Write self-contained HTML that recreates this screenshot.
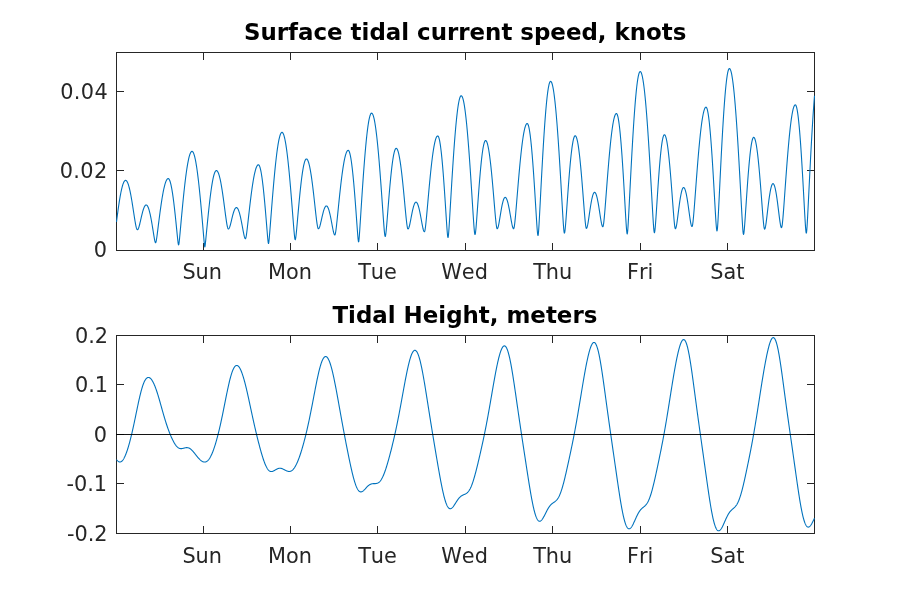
<!DOCTYPE html>
<html><head><meta charset="utf-8"><title>Tidal plots</title>
<style>
html,body{margin:0;padding:0;background:#fff;}
svg{display:block;will-change:transform;}
.tk{font-family:"DejaVu Sans","Liberation Sans",sans-serif;font-size:20.83px;fill:#262626;font-kerning:none;}
.tt{font-family:"DejaVu Sans","Liberation Sans",sans-serif;font-size:22.92px;font-weight:bold;fill:#000;}
.ax{stroke:#262626;stroke-width:1;fill:none;shape-rendering:crispEdges;}
.ln{stroke:#0072BD;stroke-width:1.1;fill:none;stroke-linejoin:round;stroke-linecap:butt;}
</style></head><body>
<svg width="900" height="600" viewBox="0 0 900 600">
<rect x="0" y="0" width="900" height="600" fill="#ffffff"/>
<g id="top">
<clipPath id="c1"><rect x="116.0" y="52.0" width="699.0" height="199.0"/></clipPath>
<path class="ax" d="M203.5,250.5v-7.5M203.5,52.5v7.5M290.5,250.5v-7.5M290.5,52.5v7.5M377.5,250.5v-7.5M377.5,52.5v7.5M465.5,250.5v-7.5M465.5,52.5v7.5M552.5,250.5v-7.5M552.5,52.5v7.5M640.5,250.5v-7.5M640.5,52.5v7.5M727.5,250.5v-7.5M727.5,52.5v7.5M116.5,250.5h7.5M814.5,250.5h-7.5M116.5,170.5h7.5M814.5,170.5h-7.5M116.5,91.5h7.5M814.5,91.5h-7.5"/>
<rect class="ax" x="116.5" y="52.5" width="698.0" height="198.0"/>
<text class="tk" x="202.20" y="279" text-anchor="middle">Sun</text>
<text class="tk" x="289.95" y="279" text-anchor="middle">Mon</text>
<text class="tk" x="377.50" y="279" text-anchor="middle">Tue</text>
<text class="tk" x="464.55" y="279" text-anchor="middle">Wed</text>
<text class="tk" x="552.70" y="279" text-anchor="middle">Thu</text>
<text class="tk" x="640.20" y="279" text-anchor="middle">Fri</text>
<text class="tk" x="727.25" y="279" text-anchor="middle">Sat</text>
<text class="tk" x="106.95" y="257" text-anchor="end">0</text>
<text class="tk" x="107.55" y="178" text-anchor="end" style="letter-spacing:0.35px">0.02</text>
<text class="tk" x="108.05" y="99" text-anchor="end" style="letter-spacing:0.35px">0.04</text>
<path class="ln" clip-path="url(#c1)" d="M116.50,221.89 L116.75,219.93 L117.00,217.98 L117.25,216.06 L117.50,214.17 L117.75,212.31 L118.00,210.49 L118.25,208.70 L118.50,206.94 L118.75,205.23 L119.00,203.57 L119.25,201.94 L119.50,200.37 L119.75,198.84 L120.00,197.37 L120.25,195.94 L120.50,194.57 L120.75,193.26 L121.00,192.00 L121.25,190.80 L121.50,189.66 L121.75,188.59 L122.00,187.57 L122.25,186.62 L122.50,185.73 L122.75,184.91 L123.00,184.15 L123.25,183.46 L123.50,182.84 L123.75,182.28 L124.00,181.80 L124.25,181.38 L124.50,181.04 L124.75,180.76 L125.00,180.55 L125.25,180.42 L125.50,180.36 L125.75,180.36 L126.00,180.44 L126.25,180.59 L126.50,180.81 L126.75,181.10 L127.00,181.46 L127.25,181.89 L127.50,182.39 L127.75,182.96 L128.00,183.59 L128.25,184.29 L128.50,185.06 L128.75,185.89 L129.00,186.78 L129.25,187.74 L129.50,188.75 L129.75,189.82 L130.00,190.95 L130.25,192.14 L130.50,193.38 L130.75,194.67 L131.00,196.00 L131.25,197.39 L131.50,198.81 L131.75,200.28 L132.00,201.78 L132.25,203.32 L132.50,204.89 L132.75,206.48 L133.00,208.09 L133.25,209.72 L133.50,211.36 L133.75,213.01 L134.00,214.65 L134.25,216.28 L134.50,217.88 L134.75,219.46 L135.00,220.99 L135.25,222.46 L135.50,223.86 L135.75,225.16 L136.00,226.34 L136.25,227.39 L136.50,228.27 L136.75,228.96 L137.00,229.45 L137.25,229.71 L137.50,229.74 L137.75,229.60 L138.00,229.30 L138.25,228.87 L138.50,228.30 L138.75,227.62 L139.00,226.83 L139.25,225.95 L139.50,225.01 L139.75,224.00 L140.00,222.96 L140.25,221.88 L140.50,220.78 L140.75,219.68 L141.00,218.57 L141.25,217.47 L141.50,216.39 L141.75,215.34 L142.00,214.31 L142.25,213.31 L142.50,212.36 L142.75,211.45 L143.00,210.59 L143.25,209.78 L143.50,209.02 L143.75,208.32 L144.00,207.68 L144.25,207.11 L144.50,206.60 L144.75,206.15 L145.00,205.78 L145.25,205.47 L145.50,205.23 L145.75,205.07 L146.00,204.97 L146.25,204.95 L146.50,205.01 L146.75,205.14 L147.00,205.35 L147.25,205.63 L147.50,205.99 L147.75,206.43 L148.00,206.95 L148.25,207.53 L148.50,208.19 L148.75,208.92 L149.00,209.72 L149.25,210.59 L149.50,211.52 L149.75,212.52 L150.00,213.59 L150.25,214.71 L150.50,215.89 L150.75,217.13 L151.00,218.41 L151.25,219.75 L151.50,221.14 L151.75,222.56 L152.00,224.03 L152.25,225.53 L152.50,227.06 L152.75,228.61 L153.00,230.18 L153.25,231.76 L153.50,233.33 L153.75,234.90 L154.00,236.42 L154.25,237.90 L154.50,239.28 L154.75,240.53 L155.00,241.57 L155.25,242.33 L155.50,242.71 L155.75,242.64 L156.00,241.99 L156.25,240.88 L156.50,239.43 L156.75,237.77 L157.00,235.98 L157.25,234.09 L157.50,232.15 L157.75,230.17 L158.00,228.18 L158.25,226.18 L158.50,224.18 L158.75,222.19 L159.00,220.21 L159.25,218.25 L159.50,216.32 L159.75,214.40 L160.00,212.52 L160.25,210.67 L160.50,208.85 L160.75,207.07 L161.00,205.33 L161.25,203.63 L161.50,201.97 L161.75,200.35 L162.00,198.78 L162.25,197.26 L162.50,195.79 L162.75,194.38 L163.00,193.01 L163.25,191.70 L163.50,190.44 L163.75,189.25 L164.00,188.11 L164.25,187.03 L164.50,186.01 L164.75,185.05 L165.00,184.15 L165.25,183.32 L165.50,182.55 L165.75,181.85 L166.00,181.22 L166.25,180.65 L166.50,180.15 L166.75,179.71 L167.00,179.35 L167.25,179.05 L167.50,178.82 L167.75,178.66 L168.00,178.57 L168.25,178.55 L168.50,178.62 L168.75,178.80 L169.00,179.07 L169.25,179.45 L169.50,179.93 L169.75,180.51 L170.00,181.19 L170.25,181.96 L170.50,182.84 L170.75,183.81 L171.00,184.88 L171.25,186.03 L171.50,187.28 L171.75,188.62 L172.00,190.05 L172.25,191.56 L172.50,193.16 L172.75,194.84 L173.00,196.59 L173.25,198.42 L173.50,200.33 L173.75,202.30 L174.00,204.34 L174.25,206.45 L174.50,208.61 L174.75,210.83 L175.00,213.11 L175.25,215.43 L175.50,217.80 L175.75,220.21 L176.00,222.65 L176.25,225.12 L176.50,227.61 L176.75,230.12 L177.00,232.62 L177.25,235.11 L177.50,237.55 L177.75,239.90 L178.00,242.06 L178.25,243.83 L178.50,244.85 L178.75,244.70 L179.00,243.33 L179.25,241.26 L179.50,238.84 L179.75,236.26 L180.00,233.58 L180.25,230.87 L180.50,228.13 L180.75,225.39 L181.00,222.65 L181.25,219.92 L181.50,217.21 L181.75,214.52 L182.00,211.85 L182.25,209.22 L182.50,206.61 L182.75,204.04 L183.00,201.51 L183.25,199.01 L183.50,196.56 L183.75,194.16 L184.00,191.80 L184.25,189.49 L184.50,187.23 L184.75,185.02 L185.00,182.87 L185.25,180.78 L185.50,178.75 L185.75,176.78 L186.00,174.87 L186.25,173.02 L186.50,171.24 L186.75,169.53 L187.00,167.89 L187.25,166.32 L187.50,164.82 L187.75,163.40 L188.00,162.05 L188.25,160.77 L188.50,159.58 L188.75,158.46 L189.00,157.42 L189.25,156.46 L189.50,155.58 L189.75,154.78 L190.00,154.06 L190.25,153.43 L190.50,152.88 L190.75,152.41 L191.00,152.03 L191.25,151.73 L191.50,151.52 L191.75,151.39 L192.00,151.35 L192.25,151.40 L192.50,151.54 L192.75,151.77 L193.00,152.10 L193.25,152.52 L193.50,153.03 L193.75,153.63 L194.00,154.33 L194.25,155.11 L194.50,155.99 L194.75,156.95 L195.00,158.01 L195.25,159.15 L195.50,160.37 L195.75,161.68 L196.00,163.08 L196.25,164.56 L196.50,166.12 L196.75,167.75 L197.00,169.47 L197.25,171.26 L197.50,173.13 L197.75,175.07 L198.00,177.08 L198.25,179.16 L198.50,181.31 L198.75,183.52 L199.00,185.79 L199.25,188.13 L199.50,190.52 L199.75,192.97 L200.00,195.48 L200.25,198.03 L200.50,200.63 L200.75,203.28 L201.00,205.98 L201.25,208.71 L201.50,211.48 L201.75,214.29 L202.00,217.13 L202.25,220.00 L202.50,222.89 L202.75,225.80 L203.00,228.72 L203.25,231.65 L203.50,234.58 L203.75,237.49 L204.00,240.35 L204.25,243.09 L204.50,245.50 L204.75,246.90 L205.00,246.39 L205.25,244.60 L205.50,242.32 L205.75,239.85 L206.00,237.30 L206.25,234.72 L206.50,232.14 L206.75,229.56 L207.00,226.99 L207.25,224.44 L207.50,221.91 L207.75,219.41 L208.00,216.95 L208.25,214.52 L208.50,212.13 L208.75,209.78 L209.00,207.48 L209.25,205.22 L209.50,203.02 L209.75,200.87 L210.00,198.78 L210.25,196.75 L210.50,194.77 L210.75,192.86 L211.00,191.02 L211.25,189.25 L211.50,187.54 L211.75,185.91 L212.00,184.35 L212.25,182.87 L212.50,181.46 L212.75,180.14 L213.00,178.89 L213.25,177.73 L213.50,176.65 L213.75,175.65 L214.00,174.74 L214.25,173.92 L214.50,173.19 L214.75,172.54 L215.00,171.99 L215.25,171.52 L215.50,171.14 L215.75,170.86 L216.00,170.67 L216.25,170.57 L216.50,170.56 L216.75,170.63 L217.00,170.78 L217.25,171.01 L217.50,171.32 L217.75,171.71 L218.00,172.17 L218.25,172.72 L218.50,173.34 L218.75,174.03 L219.00,174.80 L219.25,175.65 L219.50,176.57 L219.75,177.56 L220.00,178.61 L220.25,179.74 L220.50,180.94 L220.75,182.20 L221.00,183.52 L221.25,184.90 L221.50,186.35 L221.75,187.85 L222.00,189.40 L222.25,191.01 L222.50,192.66 L222.75,194.36 L223.00,196.11 L223.25,197.89 L223.50,199.70 L223.75,201.55 L224.00,203.42 L224.25,205.31 L224.50,207.21 L224.75,209.12 L225.00,211.03 L225.25,212.93 L225.50,214.81 L225.75,216.65 L226.00,218.45 L226.25,220.19 L226.50,221.85 L226.75,223.40 L227.00,224.81 L227.25,226.07 L227.50,227.14 L227.75,227.99 L228.00,228.58 L228.25,228.90 L228.50,228.94 L228.75,228.80 L229.00,228.51 L229.25,228.09 L229.50,227.53 L229.75,226.86 L230.00,226.09 L230.25,225.24 L230.50,224.32 L230.75,223.35 L231.00,222.34 L231.25,221.31 L231.50,220.26 L231.75,219.21 L232.00,218.17 L232.25,217.14 L232.50,216.14 L232.75,215.17 L233.00,214.24 L233.25,213.36 L233.50,212.52 L233.75,211.73 L234.00,211.01 L234.25,210.34 L234.50,209.75 L234.75,209.21 L235.00,208.75 L235.25,208.37 L235.50,208.05 L235.75,207.81 L236.00,207.65 L236.25,207.56 L236.50,207.56 L236.75,207.62 L237.00,207.77 L237.25,207.99 L237.50,208.28 L237.75,208.65 L238.00,209.09 L238.25,209.61 L238.50,210.19 L238.75,210.85 L239.00,211.57 L239.25,212.36 L239.50,213.22 L239.75,214.13 L240.00,215.10 L240.25,216.14 L240.50,217.22 L240.75,218.36 L241.00,219.54 L241.25,220.76 L241.50,222.02 L241.75,223.32 L242.00,224.64 L242.25,225.98 L242.50,227.34 L242.75,228.70 L243.00,230.06 L243.25,231.39 L243.50,232.69 L243.75,233.94 L244.00,235.12 L244.25,236.18 L244.50,237.11 L244.75,237.87 L245.00,238.41 L245.25,238.70 L245.50,238.71 L245.75,238.22 L246.00,237.27 L246.25,235.92 L246.50,234.30 L246.75,232.46 L247.00,230.49 L247.25,228.41 L247.50,226.27 L247.75,224.08 L248.00,221.86 L248.25,219.63 L248.50,217.40 L248.75,215.16 L249.00,212.94 L249.25,210.74 L249.50,208.56 L249.75,206.40 L250.00,204.27 L250.25,202.18 L250.50,200.12 L250.75,198.10 L251.00,196.12 L251.25,194.18 L251.50,192.29 L251.75,190.45 L252.00,188.66 L252.25,186.92 L252.50,185.24 L252.75,183.61 L253.00,182.04 L253.25,180.53 L253.50,179.09 L253.75,177.70 L254.00,176.38 L254.25,175.13 L254.50,173.94 L254.75,172.82 L255.00,171.77 L255.25,170.79 L255.50,169.88 L255.75,169.04 L256.00,168.27 L256.25,167.58 L256.50,166.96 L256.75,166.42 L257.00,165.95 L257.25,165.56 L257.50,165.25 L257.75,165.01 L258.00,164.85 L258.25,164.76 L258.50,164.76 L258.75,164.88 L259.00,165.12 L259.25,165.50 L259.50,166.00 L259.75,166.63 L260.00,167.38 L260.25,168.26 L260.50,169.27 L260.75,170.39 L261.00,171.64 L261.25,173.01 L261.50,174.49 L261.75,176.09 L262.00,177.79 L262.25,179.61 L262.50,181.53 L262.75,183.56 L263.00,185.68 L263.25,187.91 L263.50,190.22 L263.75,192.62 L264.00,195.11 L264.25,197.68 L264.50,200.33 L264.75,203.04 L265.00,205.83 L265.25,208.67 L265.50,211.57 L265.75,214.53 L266.00,217.52 L266.25,220.55 L266.50,223.60 L266.75,226.66 L267.00,229.72 L267.25,232.74 L267.50,235.69 L267.75,238.48 L268.00,240.97 L268.25,242.82 L268.50,243.55 L268.75,242.78 L269.00,240.82 L269.25,238.22 L269.50,235.30 L269.75,232.22 L270.00,229.05 L270.25,225.84 L270.50,222.61 L270.75,219.38 L271.00,216.15 L271.25,212.94 L271.50,209.74 L271.75,206.58 L272.00,203.44 L272.25,200.33 L272.50,197.27 L272.75,194.24 L273.00,191.26 L273.25,188.33 L273.50,185.45 L273.75,182.62 L274.00,179.84 L274.25,177.13 L274.50,174.47 L274.75,171.88 L275.00,169.36 L275.25,166.90 L275.50,164.51 L275.75,162.19 L276.00,159.95 L276.25,157.79 L276.50,155.70 L276.75,153.69 L277.00,151.76 L277.25,149.92 L277.50,148.16 L277.75,146.49 L278.00,144.90 L278.25,143.41 L278.50,142.00 L278.75,140.69 L279.00,139.47 L279.25,138.34 L279.50,137.31 L279.75,136.37 L280.00,135.53 L280.25,134.79 L280.50,134.14 L280.75,133.60 L281.00,133.15 L281.25,132.80 L281.50,132.55 L281.75,132.40 L282.00,132.35 L282.25,132.40 L282.50,132.56 L282.75,132.82 L283.00,133.18 L283.25,133.65 L283.50,134.22 L283.75,134.89 L284.00,135.66 L284.25,136.53 L284.50,137.51 L284.75,138.58 L285.00,139.75 L285.25,141.02 L285.50,142.39 L285.75,143.85 L286.00,145.40 L286.25,147.05 L286.50,148.78 L286.75,150.61 L287.00,152.52 L287.25,154.51 L287.50,156.60 L287.75,158.76 L288.00,161.00 L288.25,163.32 L288.50,165.71 L288.75,168.18 L289.00,170.72 L289.25,173.32 L289.50,175.99 L289.75,178.73 L290.00,181.52 L290.25,184.37 L290.50,187.27 L290.75,190.23 L291.00,193.23 L291.25,196.27 L291.50,199.36 L291.75,202.47 L292.00,205.62 L292.25,208.79 L292.50,211.97 L292.75,215.17 L293.00,218.36 L293.25,221.54 L293.50,224.68 L293.75,227.75 L294.00,230.72 L294.25,233.52 L294.50,236.03 L294.75,238.08 L295.00,239.40 L295.25,239.73 L295.50,239.11 L295.75,237.71 L296.00,235.77 L296.25,233.46 L296.50,230.93 L296.75,228.26 L297.00,225.50 L297.25,222.70 L297.50,219.87 L297.75,217.04 L298.00,214.22 L298.25,211.41 L298.50,208.63 L298.75,205.89 L299.00,203.19 L299.25,200.53 L299.50,197.93 L299.75,195.38 L300.00,192.90 L300.25,190.48 L300.50,188.12 L300.75,185.84 L301.00,183.64 L301.25,181.51 L301.50,179.46 L301.75,177.50 L302.00,175.63 L302.25,173.84 L302.50,172.15 L302.75,170.55 L303.00,169.04 L303.25,167.64 L303.50,166.33 L303.75,165.13 L304.00,164.03 L304.25,163.03 L304.50,162.15 L304.75,161.36 L305.00,160.69 L305.25,160.13 L305.50,159.67 L305.75,159.33 L306.00,159.09 L306.25,158.97 L306.50,158.96 L306.75,159.04 L307.00,159.22 L307.25,159.49 L307.50,159.85 L307.75,160.30 L308.00,160.84 L308.25,161.47 L308.50,162.20 L308.75,163.01 L309.00,163.91 L309.25,164.89 L309.50,165.96 L309.75,167.12 L310.00,168.35 L310.25,169.67 L310.50,171.07 L310.75,172.54 L311.00,174.09 L311.25,175.70 L311.50,177.39 L311.75,179.15 L312.00,180.97 L312.25,182.86 L312.50,184.80 L312.75,186.80 L313.00,188.85 L313.25,190.94 L313.50,193.08 L313.75,195.26 L314.00,197.48 L314.25,199.72 L314.50,201.98 L314.75,204.26 L315.00,206.54 L315.25,208.82 L315.50,211.09 L315.75,213.33 L316.00,215.52 L316.25,217.65 L316.50,219.70 L316.75,221.63 L317.00,223.42 L317.25,225.02 L317.50,226.39 L317.75,227.49 L318.00,228.26 L318.25,228.68 L318.50,228.74 L318.75,228.59 L319.00,228.28 L319.25,227.82 L319.50,227.22 L319.75,226.49 L320.00,225.67 L320.25,224.75 L320.50,223.76 L320.75,222.72 L321.00,221.64 L321.25,220.54 L321.50,219.42 L321.75,218.30 L322.00,217.19 L322.25,216.10 L322.50,215.04 L322.75,214.01 L323.00,213.03 L323.25,212.09 L323.50,211.20 L323.75,210.37 L324.00,209.60 L324.25,208.90 L324.50,208.27 L324.75,207.71 L325.00,207.22 L325.25,206.81 L325.50,206.48 L325.75,206.23 L326.00,206.05 L326.25,205.96 L326.50,205.96 L326.75,206.03 L327.00,206.20 L327.25,206.44 L327.50,206.78 L327.75,207.19 L328.00,207.69 L328.25,208.27 L328.50,208.92 L328.75,209.66 L329.00,210.46 L329.25,211.34 L329.50,212.29 L329.75,213.30 L330.00,214.37 L330.25,215.50 L330.50,216.68 L330.75,217.91 L331.00,219.18 L331.25,220.48 L331.50,221.81 L331.75,223.16 L332.00,224.51 L332.25,225.86 L332.50,227.20 L332.75,228.50 L333.00,229.75 L333.25,230.93 L333.50,232.01 L333.75,232.96 L334.00,233.76 L334.25,234.38 L334.50,234.78 L334.75,234.95 L335.00,234.78 L335.25,234.11 L335.50,232.99 L335.75,231.50 L336.00,229.72 L336.25,227.73 L336.50,225.58 L336.75,223.31 L337.00,220.96 L337.25,218.56 L337.50,216.11 L337.75,213.65 L338.00,211.17 L338.25,208.69 L338.50,206.22 L338.75,203.76 L339.00,201.32 L339.25,198.91 L339.50,196.52 L339.75,194.17 L340.00,191.85 L340.25,189.58 L340.50,187.35 L340.75,185.16 L341.00,183.02 L341.25,180.94 L341.50,178.90 L341.75,176.92 L342.00,175.01 L342.25,173.15 L342.50,171.35 L342.75,169.62 L343.00,167.95 L343.25,166.35 L343.50,164.82 L343.75,163.36 L344.00,161.97 L344.25,160.65 L344.50,159.41 L344.75,158.25 L345.00,157.16 L345.25,156.15 L345.50,155.21 L345.75,154.36 L346.00,153.59 L346.25,152.90 L346.50,152.29 L346.75,151.76 L347.00,151.32 L347.25,150.96 L347.50,150.68 L347.75,150.49 L348.00,150.38 L348.25,150.35 L348.50,150.45 L348.75,150.69 L349.00,151.08 L349.25,151.60 L349.50,152.27 L349.75,153.07 L350.00,154.01 L350.25,155.09 L350.50,156.30 L350.75,157.65 L351.00,159.13 L351.25,160.74 L351.50,162.47 L351.75,164.33 L352.00,166.32 L352.25,168.42 L352.50,170.63 L352.75,172.96 L353.00,175.39 L353.25,177.93 L353.50,180.58 L353.75,183.32 L354.00,186.15 L354.25,189.07 L354.50,192.07 L354.75,195.15 L355.00,198.30 L355.25,201.52 L355.50,204.80 L355.75,208.14 L356.00,211.52 L356.25,214.94 L356.50,218.38 L356.75,221.84 L357.00,225.29 L357.25,228.71 L357.50,232.05 L357.75,235.25 L358.00,238.15 L358.25,240.50 L358.50,241.82 L358.75,241.61 L359.00,239.75 L359.25,236.87 L359.50,233.48 L359.75,229.84 L360.00,226.06 L360.25,222.22 L360.50,218.34 L360.75,214.45 L361.00,210.56 L361.25,206.69 L361.50,202.85 L361.75,199.03 L362.00,195.26 L362.25,191.52 L362.50,187.83 L362.75,184.20 L363.00,180.62 L363.25,177.10 L363.50,173.65 L363.75,170.26 L364.00,166.95 L364.25,163.70 L364.50,160.54 L364.75,157.45 L365.00,154.45 L365.25,151.54 L365.50,148.72 L365.75,145.98 L366.00,143.34 L366.25,140.80 L366.50,138.36 L366.75,136.02 L367.00,133.78 L367.25,131.65 L367.50,129.63 L367.75,127.72 L368.00,125.92 L368.25,124.23 L368.50,122.66 L368.75,121.20 L369.00,119.86 L369.25,118.64 L369.50,117.54 L369.75,116.56 L370.00,115.70 L370.25,114.97 L370.50,114.36 L370.75,113.87 L371.00,113.51 L371.25,113.27 L371.50,113.16 L371.75,113.17 L372.00,113.30 L372.25,113.53 L372.50,113.89 L372.75,114.35 L373.00,114.93 L373.25,115.62 L373.50,116.42 L373.75,117.33 L374.00,118.35 L374.25,119.48 L374.50,120.72 L374.75,122.06 L375.00,123.51 L375.25,125.07 L375.50,126.73 L375.75,128.49 L376.00,130.35 L376.25,132.31 L376.50,134.37 L376.75,136.52 L377.00,138.76 L377.25,141.10 L377.50,143.53 L377.75,146.04 L378.00,148.63 L378.25,151.31 L378.50,154.07 L378.75,156.91 L379.00,159.82 L379.25,162.80 L379.50,165.85 L379.75,168.96 L380.00,172.14 L380.25,175.38 L380.50,178.67 L380.75,182.02 L381.00,185.41 L381.25,188.84 L381.50,192.31 L381.75,195.82 L382.00,199.35 L382.25,202.90 L382.50,206.46 L382.75,210.02 L383.00,213.57 L383.25,217.09 L383.50,220.55 L383.75,223.91 L384.00,227.13 L384.25,230.13 L384.50,232.77 L384.75,234.88 L385.00,236.20 L385.25,236.53 L385.50,235.90 L385.75,234.48 L386.00,232.46 L386.25,230.01 L386.50,227.28 L386.75,224.37 L387.00,221.35 L387.25,218.26 L387.50,215.12 L387.75,211.98 L388.00,208.83 L388.25,205.70 L388.50,202.60 L388.75,199.54 L389.00,196.52 L389.25,193.55 L389.50,190.65 L389.75,187.80 L390.00,185.03 L390.25,182.33 L390.50,179.71 L390.75,177.17 L391.00,174.72 L391.25,172.36 L391.50,170.09 L391.75,167.92 L392.00,165.86 L392.25,163.89 L392.50,162.03 L392.75,160.29 L393.00,158.65 L393.25,157.13 L393.50,155.72 L393.75,154.43 L394.00,153.27 L394.25,152.22 L394.50,151.30 L394.75,150.50 L395.00,149.82 L395.25,149.27 L395.50,148.85 L395.75,148.56 L396.00,148.39 L396.25,148.35 L396.50,148.43 L396.75,148.61 L397.00,148.90 L397.25,149.30 L397.50,149.81 L397.75,150.42 L398.00,151.14 L398.25,151.97 L398.50,152.89 L398.75,153.92 L399.00,155.06 L399.25,156.29 L399.50,157.62 L399.75,159.04 L400.00,160.56 L400.25,162.17 L400.50,163.88 L400.75,165.67 L401.00,167.54 L401.25,169.50 L401.50,171.54 L401.75,173.65 L402.00,175.84 L402.25,178.10 L402.50,180.42 L402.75,182.81 L403.00,185.25 L403.25,187.75 L403.50,190.29 L403.75,192.88 L404.00,195.50 L404.25,198.15 L404.50,200.82 L404.75,203.50 L405.00,206.18 L405.25,208.85 L405.50,211.48 L405.75,214.07 L406.00,216.59 L406.25,219.01 L406.50,221.28 L406.75,223.38 L407.00,225.23 L407.25,226.78 L407.50,227.96 L407.75,228.70 L408.00,228.95 L408.25,228.85 L408.50,228.54 L408.75,228.04 L409.00,227.36 L409.25,226.53 L409.50,225.57 L409.75,224.50 L410.00,223.34 L410.25,222.12 L410.50,220.85 L410.75,219.55 L411.00,218.24 L411.25,216.92 L411.50,215.62 L411.75,214.34 L412.00,213.09 L412.25,211.88 L412.50,210.72 L412.75,209.62 L413.00,208.57 L413.25,207.59 L413.50,206.68 L413.75,205.84 L414.00,205.08 L414.25,204.41 L414.50,203.82 L414.75,203.31 L415.00,202.90 L415.25,202.57 L415.50,202.34 L415.75,202.20 L416.00,202.15 L416.25,202.20 L416.50,202.33 L416.75,202.55 L417.00,202.87 L417.25,203.27 L417.50,203.76 L417.75,204.33 L418.00,204.98 L418.25,205.72 L418.50,206.53 L418.75,207.42 L419.00,208.38 L419.25,209.41 L419.50,210.50 L419.75,211.65 L420.00,212.86 L420.25,214.11 L420.50,215.41 L420.75,216.74 L421.00,218.10 L421.25,219.48 L421.50,220.86 L421.75,222.24 L422.00,223.60 L422.25,224.93 L422.50,226.20 L422.75,227.40 L423.00,228.51 L423.25,229.49 L423.50,230.33 L423.75,230.99 L424.00,231.46 L424.25,231.71 L424.50,231.70 L424.75,231.18 L425.00,230.13 L425.25,228.63 L425.50,226.76 L425.75,224.61 L426.00,222.25 L426.25,219.74 L426.50,217.11 L426.75,214.40 L427.00,211.64 L427.25,208.84 L427.50,206.02 L427.75,203.19 L428.00,200.36 L428.25,197.55 L428.50,194.75 L428.75,191.98 L429.00,189.24 L429.25,186.54 L429.50,183.88 L429.75,181.26 L430.00,178.69 L430.25,176.17 L430.50,173.70 L430.75,171.30 L431.00,168.95 L431.25,166.67 L431.50,164.45 L431.75,162.31 L432.00,160.23 L432.25,158.23 L432.50,156.30 L432.75,154.45 L433.00,152.68 L433.25,151.00 L433.50,149.39 L433.75,147.87 L434.00,146.43 L434.25,145.09 L434.50,143.83 L434.75,142.66 L435.00,141.58 L435.25,140.59 L435.50,139.70 L435.75,138.90 L436.00,138.19 L436.25,137.58 L436.50,137.07 L436.75,136.65 L437.00,136.33 L437.25,136.11 L437.50,135.98 L437.75,135.95 L438.00,136.07 L438.25,136.35 L438.50,136.79 L438.75,137.40 L439.00,138.17 L439.25,139.10 L439.50,140.19 L439.75,141.44 L440.00,142.85 L440.25,144.41 L440.50,146.12 L440.75,147.98 L441.00,149.99 L441.25,152.14 L441.50,154.43 L441.75,156.86 L442.00,159.42 L442.25,162.11 L442.50,164.92 L442.75,167.86 L443.00,170.90 L443.25,174.06 L443.50,177.32 L443.75,180.68 L444.00,184.13 L444.25,187.67 L444.50,191.28 L444.75,194.97 L445.00,198.71 L445.25,202.51 L445.50,206.35 L445.75,210.21 L446.00,214.09 L446.25,217.94 L446.50,221.75 L446.75,225.46 L447.00,229.00 L447.25,232.23 L447.50,234.96 L447.75,236.86 L448.00,237.55 L448.25,236.78 L448.50,234.68 L448.75,231.70 L449.00,228.19 L449.25,224.37 L449.50,220.36 L449.75,216.24 L450.00,212.07 L450.25,207.86 L450.50,203.64 L450.75,199.43 L451.00,195.23 L451.25,191.07 L451.50,186.93 L451.75,182.84 L452.00,178.80 L452.25,174.81 L452.50,170.88 L452.75,167.02 L453.00,163.22 L453.25,159.49 L453.50,155.84 L453.75,152.27 L454.00,148.78 L454.25,145.38 L454.50,142.07 L454.75,138.86 L455.00,135.74 L455.25,132.71 L455.50,129.79 L455.75,126.98 L456.00,124.27 L456.25,121.68 L456.50,119.19 L456.75,116.82 L457.00,114.57 L457.25,112.44 L457.50,110.43 L457.75,108.54 L458.00,106.78 L458.25,105.14 L458.50,103.63 L458.75,102.25 L459.00,101.00 L459.25,99.88 L459.50,98.89 L459.75,98.04 L460.00,97.32 L460.25,96.73 L460.50,96.28 L460.75,95.97 L461.00,95.79 L461.25,95.75 L461.50,95.84 L461.75,96.05 L462.00,96.39 L462.25,96.84 L462.50,97.43 L462.75,98.13 L463.00,98.96 L463.25,99.91 L463.50,100.98 L463.75,102.16 L464.00,103.47 L464.25,104.90 L464.50,106.44 L464.75,108.10 L465.00,109.87 L465.25,111.75 L465.50,113.75 L465.75,115.85 L466.00,118.06 L466.25,120.37 L466.50,122.79 L466.75,125.31 L467.00,127.93 L467.25,130.65 L467.50,133.46 L467.75,136.36 L468.00,139.35 L468.25,142.43 L468.50,145.59 L468.75,148.83 L469.00,152.15 L469.25,155.55 L469.50,159.02 L469.75,162.55 L470.00,166.15 L470.25,169.80 L470.50,173.52 L470.75,177.28 L471.00,181.09 L471.25,184.95 L471.50,188.83 L471.75,192.75 L472.00,196.69 L472.25,200.63 L472.50,204.58 L472.75,208.51 L473.00,212.41 L473.25,216.25 L473.50,219.99 L473.75,223.57 L474.00,226.92 L474.25,229.91 L474.50,232.34 L474.75,233.97 L475.00,234.55 L475.25,234.06 L475.50,232.66 L475.75,230.55 L476.00,227.93 L476.25,224.98 L476.50,221.80 L476.75,218.47 L477.00,215.06 L477.25,211.60 L477.50,208.12 L477.75,204.64 L478.00,201.18 L478.25,197.76 L478.50,194.37 L478.75,191.04 L479.00,187.77 L479.25,184.56 L479.50,181.44 L479.75,178.39 L480.00,175.43 L480.25,172.57 L480.50,169.80 L480.75,167.14 L481.00,164.59 L481.25,162.14 L481.50,159.81 L481.75,157.60 L482.00,155.52 L482.25,153.55 L482.50,151.72 L482.75,150.02 L483.00,148.45 L483.25,147.02 L483.50,145.73 L483.75,144.58 L484.00,143.57 L484.25,142.70 L484.50,141.98 L484.75,141.40 L485.00,140.98 L485.25,140.70 L485.50,140.56 L485.75,140.57 L486.00,140.71 L486.25,140.96 L486.50,141.34 L486.75,141.83 L487.00,142.45 L487.25,143.18 L487.50,144.03 L487.75,145.00 L488.00,146.09 L488.25,147.28 L488.50,148.60 L488.75,150.02 L489.00,151.55 L489.25,153.19 L489.50,154.93 L489.75,156.77 L490.00,158.72 L490.25,160.76 L490.50,162.89 L490.75,165.12 L491.00,167.43 L491.25,169.83 L491.50,172.31 L491.75,174.86 L492.00,177.48 L492.25,180.17 L492.50,182.93 L492.75,185.74 L493.00,188.60 L493.25,191.50 L493.50,194.44 L493.75,197.40 L494.00,200.38 L494.25,203.36 L494.50,206.34 L494.75,209.29 L495.00,212.19 L495.25,215.02 L495.50,217.74 L495.75,220.31 L496.00,222.67 L496.25,224.76 L496.50,226.50 L496.75,227.79 L497.00,228.56 L497.25,228.74 L497.50,228.56 L497.75,228.13 L498.00,227.47 L498.25,226.60 L498.50,225.56 L498.75,224.36 L499.00,223.05 L499.25,221.65 L499.50,220.18 L499.75,218.67 L500.00,217.14 L500.25,215.60 L500.50,214.06 L500.75,212.55 L501.00,211.07 L501.25,209.64 L501.50,208.25 L501.75,206.92 L502.00,205.66 L502.25,204.47 L502.50,203.36 L502.75,202.33 L503.00,201.39 L503.25,200.54 L503.50,199.79 L503.75,199.13 L504.00,198.57 L504.25,198.12 L504.50,197.77 L504.75,197.52 L505.00,197.38 L505.25,197.35 L505.50,197.42 L505.75,197.58 L506.00,197.85 L506.25,198.20 L506.50,198.65 L506.75,199.19 L507.00,199.83 L507.25,200.55 L507.50,201.36 L507.75,202.25 L508.00,203.22 L508.25,204.26 L508.50,205.38 L508.75,206.57 L509.00,207.81 L509.25,209.11 L509.50,210.46 L509.75,211.86 L510.00,213.28 L510.25,214.73 L510.50,216.20 L510.75,217.67 L511.00,219.12 L511.25,220.55 L511.50,221.94 L511.75,223.26 L512.00,224.49 L512.25,225.62 L512.50,226.61 L512.75,227.44 L513.00,228.09 L513.25,228.52 L513.50,228.73 L513.75,228.64 L514.00,228.00 L514.25,226.83 L514.50,225.21 L514.75,223.21 L515.00,220.92 L515.25,218.41 L515.50,215.73 L515.75,212.93 L516.00,210.04 L516.25,207.08 L516.50,204.09 L516.75,201.06 L517.00,198.03 L517.25,194.99 L517.50,191.96 L517.75,188.95 L518.00,185.97 L518.25,183.01 L518.50,180.09 L518.75,177.20 L519.00,174.37 L519.25,171.58 L519.50,168.84 L519.75,166.17 L520.00,163.55 L520.25,160.99 L520.50,158.50 L520.75,156.08 L521.00,153.73 L521.25,151.45 L521.50,149.25 L521.75,147.13 L522.00,145.09 L522.25,143.13 L522.50,141.25 L522.75,139.47 L523.00,137.77 L523.25,136.16 L523.50,134.64 L523.75,133.21 L524.00,131.88 L524.25,130.64 L524.50,129.50 L524.75,128.46 L525.00,127.51 L525.25,126.67 L525.50,125.92 L525.75,125.28 L526.00,124.73 L526.25,124.29 L526.50,123.95 L526.75,123.72 L527.00,123.58 L527.25,123.55 L527.50,123.67 L527.75,123.95 L528.00,124.40 L528.25,125.01 L528.50,125.79 L528.75,126.72 L529.00,127.82 L529.25,129.08 L529.50,130.50 L529.75,132.08 L530.00,133.80 L530.25,135.68 L530.50,137.71 L530.75,139.89 L531.00,142.21 L531.25,144.66 L531.50,147.26 L531.75,149.98 L532.00,152.84 L532.25,155.82 L532.50,158.92 L532.75,162.13 L533.00,165.45 L533.25,168.88 L533.50,172.41 L533.75,176.03 L534.00,179.74 L534.25,183.53 L534.50,187.39 L534.75,191.31 L535.00,195.29 L535.25,199.32 L535.50,203.37 L535.75,207.44 L536.00,211.51 L536.25,215.54 L536.50,219.51 L536.75,223.35 L537.00,226.98 L537.25,230.27 L537.50,233.01 L537.75,234.88 L538.00,235.55 L538.25,234.67 L538.50,232.28 L538.75,228.88 L539.00,224.88 L539.25,220.51 L539.50,215.94 L539.75,211.24 L540.00,206.47 L540.25,201.68 L540.50,196.87 L540.75,192.08 L541.00,187.31 L541.25,182.57 L541.50,177.89 L541.75,173.25 L542.00,168.68 L542.25,164.18 L542.50,159.74 L542.75,155.39 L543.00,151.13 L543.25,146.95 L543.50,142.87 L543.75,138.89 L544.00,135.02 L544.25,131.25 L544.50,127.59 L544.75,124.05 L545.00,120.63 L545.25,117.34 L545.50,114.17 L545.75,111.13 L546.00,108.22 L546.25,105.45 L546.50,102.82 L546.75,100.34 L547.00,97.99 L547.25,95.79 L547.50,93.75 L547.75,91.85 L548.00,90.10 L548.25,88.51 L548.50,87.08 L548.75,85.80 L549.00,84.68 L549.25,83.73 L549.50,82.93 L549.75,82.29 L550.00,81.82 L550.25,81.51 L550.50,81.36 L550.75,81.37 L551.00,81.52 L551.25,81.81 L551.50,82.23 L551.75,82.78 L552.00,83.47 L552.25,84.30 L552.50,85.25 L552.75,86.34 L553.00,87.57 L553.25,88.92 L553.50,90.40 L553.75,92.01 L554.00,93.74 L554.25,95.61 L554.50,97.59 L554.75,99.70 L555.00,101.92 L555.25,104.27 L555.50,106.73 L555.75,109.31 L556.00,112.00 L556.25,114.80 L556.50,117.70 L556.75,120.71 L557.00,123.82 L557.25,127.04 L557.50,130.34 L557.75,133.75 L558.00,137.24 L558.25,140.82 L558.50,144.48 L558.75,148.22 L559.00,152.04 L559.25,155.93 L559.50,159.89 L559.75,163.91 L560.00,168.00 L560.25,172.13 L560.50,176.32 L560.75,180.55 L561.00,184.81 L561.25,189.10 L561.50,193.41 L561.75,197.73 L562.00,202.05 L562.25,206.34 L562.50,210.58 L562.75,214.74 L563.00,218.77 L563.25,222.61 L563.50,226.14 L563.75,229.20 L564.00,231.56 L564.25,232.92 L564.50,233.07 L564.75,232.23 L565.00,230.56 L565.25,228.27 L565.50,225.52 L565.75,222.47 L566.00,219.21 L566.25,215.82 L566.50,212.34 L566.75,208.82 L567.00,205.28 L567.25,201.74 L567.50,198.23 L567.75,194.74 L568.00,191.29 L568.25,187.90 L568.50,184.57 L568.75,181.31 L569.00,178.12 L569.25,175.02 L569.50,172.00 L569.75,169.08 L570.00,166.25 L570.25,163.53 L570.50,160.91 L570.75,158.41 L571.00,156.02 L571.25,153.75 L571.50,151.60 L571.75,149.58 L572.00,147.69 L572.25,145.92 L572.50,144.30 L572.75,142.80 L573.00,141.45 L573.25,140.24 L573.50,139.17 L573.75,138.24 L574.00,137.46 L574.25,136.82 L574.50,136.33 L574.75,135.99 L575.00,135.80 L575.25,135.75 L575.50,135.85 L575.75,136.08 L576.00,136.45 L576.25,136.95 L576.50,137.58 L576.75,138.35 L577.00,139.26 L577.25,140.29 L577.50,141.45 L577.75,142.75 L578.00,144.16 L578.25,145.71 L578.50,147.37 L578.75,149.15 L579.00,151.06 L579.25,153.07 L579.50,155.20 L579.75,157.43 L580.00,159.77 L580.25,162.22 L580.50,164.75 L580.75,167.38 L581.00,170.10 L581.25,172.91 L581.50,175.79 L581.75,178.74 L582.00,181.76 L582.25,184.84 L582.50,187.98 L582.75,191.15 L583.00,194.37 L583.25,197.60 L583.50,200.85 L583.75,204.09 L584.00,207.30 L584.25,210.48 L584.50,213.57 L584.75,216.55 L585.00,219.37 L585.25,221.96 L585.50,224.24 L585.75,226.11 L586.00,227.48 L586.25,228.23 L586.50,228.33 L586.75,228.06 L587.00,227.51 L587.25,226.71 L587.50,225.67 L587.75,224.45 L588.00,223.07 L588.25,221.57 L588.50,219.98 L588.75,218.32 L589.00,216.62 L589.25,214.90 L589.50,213.18 L589.75,211.47 L590.00,209.78 L590.25,208.13 L590.50,206.53 L590.75,204.98 L591.00,203.50 L591.25,202.09 L591.50,200.76 L591.75,199.51 L592.00,198.35 L592.25,197.28 L592.50,196.30 L592.75,195.43 L593.00,194.66 L593.25,194.00 L593.50,193.45 L593.75,193.01 L594.00,192.68 L594.25,192.46 L594.50,192.36 L594.75,192.37 L595.00,192.49 L595.25,192.73 L595.50,193.07 L595.75,193.52 L596.00,194.08 L596.25,194.75 L596.50,195.51 L596.75,196.38 L597.00,197.34 L597.25,198.40 L597.50,199.55 L597.75,200.78 L598.00,202.09 L598.25,203.47 L598.50,204.91 L598.75,206.42 L599.00,207.97 L599.25,209.57 L599.50,211.19 L599.75,212.83 L600.00,214.48 L600.25,216.11 L600.50,217.72 L600.75,219.28 L601.00,220.76 L601.25,222.14 L601.50,223.40 L601.75,224.50 L602.00,225.41 L602.25,226.11 L602.50,226.56 L602.75,226.74 L603.00,226.55 L603.25,225.75 L603.50,224.39 L603.75,222.57 L604.00,220.36 L604.25,217.86 L604.50,215.13 L604.75,212.22 L605.00,209.19 L605.25,206.07 L605.50,202.88 L605.75,199.65 L606.00,196.40 L606.25,193.13 L606.50,189.86 L606.75,186.61 L607.00,183.37 L607.25,180.16 L607.50,176.98 L607.75,173.84 L608.00,170.75 L608.25,167.70 L608.50,164.71 L608.75,161.78 L609.00,158.90 L609.25,156.10 L609.50,153.36 L609.75,150.69 L610.00,148.09 L610.25,145.58 L610.50,143.14 L610.75,140.78 L611.00,138.52 L611.25,136.33 L611.50,134.24 L611.75,132.24 L612.00,130.33 L612.25,128.52 L612.50,126.80 L612.75,125.18 L613.00,123.67 L613.25,122.25 L613.50,120.94 L613.75,119.73 L614.00,118.63 L614.25,117.63 L614.50,116.74 L614.75,115.96 L615.00,115.29 L615.25,114.72 L615.50,114.27 L615.75,113.92 L616.00,113.69 L616.25,113.57 L616.50,113.56 L616.75,113.73 L617.00,114.06 L617.25,114.58 L617.50,115.28 L617.75,116.15 L618.00,117.19 L618.25,118.41 L618.50,119.81 L618.75,121.37 L619.00,123.10 L619.25,124.99 L619.50,127.05 L619.75,129.27 L620.00,131.64 L620.25,134.17 L620.50,136.85 L620.75,139.68 L621.00,142.64 L621.25,145.74 L621.50,148.98 L621.75,152.34 L622.00,155.83 L622.25,159.43 L622.50,163.15 L622.75,166.97 L623.00,170.89 L623.25,174.90 L623.50,179.00 L623.75,183.17 L624.00,187.41 L624.25,191.70 L624.50,196.04 L624.75,200.40 L625.00,204.78 L625.25,209.14 L625.50,213.46 L625.75,217.70 L626.00,221.77 L626.25,225.60 L626.50,229.00 L626.75,231.74 L627.00,233.49 L627.25,233.92 L627.50,232.75 L627.75,230.21 L628.00,226.72 L628.25,222.64 L628.50,218.21 L628.75,213.56 L629.00,208.79 L629.25,203.94 L629.50,199.04 L629.75,194.14 L630.00,189.24 L630.25,184.36 L630.50,179.51 L630.75,174.71 L631.00,169.95 L631.25,165.26 L631.50,160.63 L631.75,156.06 L632.00,151.58 L632.25,147.18 L632.50,142.86 L632.75,138.64 L633.00,134.51 L633.25,130.48 L633.50,126.56 L633.75,122.75 L634.00,119.05 L634.25,115.47 L634.50,112.01 L634.75,108.67 L635.00,105.45 L635.25,102.37 L635.50,99.42 L635.75,96.61 L636.00,93.93 L636.25,91.40 L636.50,89.01 L636.75,86.76 L637.00,84.66 L637.25,82.72 L637.50,80.92 L637.75,79.28 L638.00,77.79 L638.25,76.46 L638.50,75.29 L638.75,74.27 L639.00,73.41 L639.25,72.72 L639.50,72.19 L639.75,71.81 L640.00,71.60 L640.25,71.55 L640.50,71.65 L640.75,71.88 L641.00,72.24 L641.25,72.75 L641.50,73.38 L641.75,74.15 L642.00,75.06 L642.25,76.09 L642.50,77.26 L642.75,78.56 L643.00,79.99 L643.25,81.55 L643.50,83.24 L643.75,85.05 L644.00,86.99 L644.25,89.05 L644.50,91.24 L644.75,93.54 L645.00,95.97 L645.25,98.50 L645.50,101.16 L645.75,103.92 L646.00,106.80 L646.25,109.78 L646.50,112.87 L646.75,116.06 L647.00,119.35 L647.25,122.73 L647.50,126.21 L647.75,129.79 L648.00,133.45 L648.25,137.19 L648.50,141.02 L648.75,144.92 L649.00,148.90 L649.25,152.95 L649.50,157.06 L649.75,161.24 L650.00,165.47 L650.25,169.76 L650.50,174.09 L650.75,178.47 L651.00,182.88 L651.25,187.31 L651.50,191.76 L651.75,196.22 L652.00,200.67 L652.25,205.09 L652.50,209.47 L652.75,213.76 L653.00,217.91 L653.25,221.87 L653.50,225.51 L653.75,228.67 L654.00,231.10 L654.25,232.51 L654.50,232.66 L654.75,231.68 L655.00,229.78 L655.25,227.17 L655.50,224.08 L655.75,220.68 L656.00,217.07 L656.25,213.34 L656.50,209.53 L656.75,205.69 L657.00,201.84 L657.25,198.01 L657.50,194.22 L657.75,190.47 L658.00,186.79 L658.25,183.18 L658.50,179.65 L658.75,176.22 L659.00,172.88 L659.25,169.65 L659.50,166.53 L659.75,163.53 L660.00,160.65 L660.25,157.91 L660.50,155.29 L660.75,152.82 L661.00,150.49 L661.25,148.31 L661.50,146.29 L661.75,144.41 L662.00,142.70 L662.25,141.14 L662.50,139.75 L662.75,138.53 L663.00,137.48 L663.25,136.59 L663.50,135.88 L663.75,135.34 L664.00,134.97 L664.25,134.78 L664.50,134.76 L664.75,134.89 L665.00,135.16 L665.25,135.57 L665.50,136.13 L665.75,136.82 L666.00,137.66 L666.25,138.63 L666.50,139.74 L666.75,140.98 L667.00,142.36 L667.25,143.87 L667.50,145.51 L667.75,147.28 L668.00,149.17 L668.25,151.19 L668.50,153.32 L668.75,155.57 L669.00,157.92 L669.25,160.39 L669.50,162.96 L669.75,165.63 L670.00,168.40 L670.25,171.25 L670.50,174.19 L670.75,177.21 L671.00,180.30 L671.25,183.46 L671.50,186.68 L671.75,189.95 L672.00,193.25 L672.25,196.59 L672.50,199.94 L672.75,203.29 L673.00,206.63 L673.25,209.92 L673.50,213.15 L673.75,216.26 L674.00,219.22 L674.25,221.94 L674.50,224.36 L674.75,226.35 L675.00,227.81 L675.25,228.62 L675.50,228.72 L675.75,228.40 L676.00,227.73 L676.25,226.75 L676.50,225.51 L676.75,224.04 L677.00,222.41 L677.25,220.65 L677.50,218.79 L677.75,216.87 L678.00,214.91 L678.25,212.94 L678.50,210.97 L678.75,209.03 L679.00,207.12 L679.25,205.25 L679.50,203.44 L679.75,201.70 L680.00,200.03 L680.25,198.45 L680.50,196.95 L680.75,195.55 L681.00,194.25 L681.25,193.05 L681.50,191.96 L681.75,190.99 L682.00,190.13 L682.25,189.39 L682.50,188.78 L682.75,188.28 L683.00,187.92 L683.25,187.67 L683.50,187.56 L683.75,187.57 L684.00,187.70 L684.25,187.95 L684.50,188.31 L684.75,188.79 L685.00,189.38 L685.25,190.09 L685.50,190.90 L685.75,191.83 L686.00,192.85 L686.25,193.98 L686.50,195.20 L686.75,196.51 L687.00,197.91 L687.25,199.40 L687.50,200.95 L687.75,202.57 L688.00,204.26 L688.25,205.99 L688.50,207.76 L688.75,209.56 L689.00,211.38 L689.25,213.21 L689.50,215.01 L689.75,216.78 L690.00,218.50 L690.25,220.13 L690.50,221.66 L690.75,223.03 L691.00,224.23 L691.25,225.21 L691.50,225.94 L691.75,226.40 L692.00,226.55 L692.25,226.23 L692.50,225.29 L692.75,223.79 L693.00,221.83 L693.25,219.51 L693.50,216.89 L693.75,214.05 L694.00,211.05 L694.25,207.93 L694.50,204.72 L694.75,201.45 L695.00,198.14 L695.25,194.80 L695.50,191.45 L695.75,188.11 L696.00,184.77 L696.25,181.45 L696.50,178.16 L696.75,174.90 L697.00,171.68 L697.25,168.50 L697.50,165.37 L697.75,162.29 L698.00,159.26 L698.25,156.30 L698.50,153.40 L698.75,150.56 L699.00,147.80 L699.25,145.10 L699.50,142.48 L699.75,139.94 L700.00,137.48 L700.25,135.11 L700.50,132.81 L700.75,130.61 L701.00,128.49 L701.25,126.47 L701.50,124.53 L701.75,122.69 L702.00,120.95 L702.25,119.31 L702.50,117.76 L702.75,116.32 L703.00,114.98 L703.25,113.74 L703.50,112.60 L703.75,111.57 L704.00,110.65 L704.25,109.83 L704.50,109.12 L704.75,108.52 L705.00,108.03 L705.25,107.64 L705.50,107.37 L705.75,107.20 L706.00,107.15 L706.25,107.24 L706.50,107.51 L706.75,107.96 L707.00,108.58 L707.25,109.39 L707.50,110.37 L707.75,111.53 L708.00,112.86 L708.25,114.36 L708.50,116.03 L708.75,117.87 L709.00,119.87 L709.25,122.04 L709.50,124.37 L709.75,126.85 L710.00,129.48 L710.25,132.27 L710.50,135.20 L710.75,138.26 L711.00,141.47 L711.25,144.81 L711.50,148.27 L711.75,151.85 L712.00,155.55 L712.25,159.36 L712.50,163.27 L712.75,167.28 L713.00,171.38 L713.25,175.55 L713.50,179.80 L713.75,184.11 L714.00,188.47 L714.25,192.87 L714.50,197.28 L714.75,201.70 L715.00,206.09 L715.25,210.42 L715.50,214.64 L715.75,218.69 L716.00,222.46 L716.25,225.80 L716.50,228.51 L716.75,230.31 L717.00,230.95 L717.25,230.14 L717.50,227.88 L717.75,224.55 L718.00,220.52 L718.25,216.03 L718.50,211.26 L718.75,206.31 L719.00,201.26 L719.25,196.15 L719.50,191.01 L719.75,185.87 L720.00,180.75 L720.25,175.65 L720.50,170.61 L720.75,165.61 L721.00,160.68 L721.25,155.83 L721.50,151.05 L721.75,146.36 L722.00,141.77 L722.25,137.27 L722.50,132.88 L722.75,128.59 L723.00,124.43 L723.25,120.38 L723.50,116.46 L723.75,112.66 L724.00,109.01 L724.25,105.48 L724.50,102.11 L724.75,98.87 L725.00,95.78 L725.25,92.85 L725.50,90.07 L725.75,87.45 L726.00,84.99 L726.25,82.69 L726.50,80.56 L726.75,78.60 L727.00,76.81 L727.25,75.19 L727.50,73.74 L727.75,72.47 L728.00,71.38 L728.25,70.46 L728.50,69.72 L728.75,69.16 L729.00,68.78 L729.25,68.58 L729.50,68.56 L729.75,68.69 L730.00,68.95 L730.25,69.36 L730.50,69.91 L730.75,70.59 L731.00,71.41 L731.25,72.38 L731.50,73.48 L731.75,74.71 L732.00,76.08 L732.25,77.59 L732.50,79.22 L732.75,80.99 L733.00,82.89 L733.25,84.92 L733.50,87.08 L733.75,89.36 L734.00,91.76 L734.25,94.29 L734.50,96.94 L734.75,99.70 L735.00,102.58 L735.25,105.57 L735.50,108.67 L735.75,111.88 L736.00,115.20 L736.25,118.62 L736.50,122.14 L736.75,125.75 L737.00,129.46 L737.25,133.25 L737.50,137.14 L737.75,141.11 L738.00,145.15 L738.25,149.28 L738.50,153.48 L738.75,157.74 L739.00,162.07 L739.25,166.45 L739.50,170.89 L739.75,175.38 L740.00,179.92 L740.25,184.48 L740.50,189.08 L740.75,193.69 L741.00,198.31 L741.25,202.92 L741.50,207.51 L741.75,212.04 L742.00,216.49 L742.25,220.78 L742.50,224.84 L742.75,228.52 L743.00,231.59 L743.25,233.69 L743.50,234.45 L743.75,233.89 L744.00,232.31 L744.25,229.96 L744.50,227.06 L744.75,223.82 L745.00,220.35 L745.25,216.75 L745.50,213.06 L745.75,209.33 L746.00,205.60 L746.25,201.87 L746.50,198.17 L746.75,194.52 L747.00,190.92 L747.25,187.38 L747.50,183.92 L747.75,180.54 L748.00,177.25 L748.25,174.06 L748.50,170.97 L748.75,167.98 L749.00,165.11 L749.25,162.36 L749.50,159.74 L749.75,157.24 L750.00,154.87 L750.25,152.64 L750.50,150.55 L750.75,148.61 L751.00,146.81 L751.25,145.16 L751.50,143.66 L751.75,142.32 L752.00,141.14 L752.25,140.11 L752.50,139.24 L752.75,138.54 L753.00,138.00 L753.25,137.62 L753.50,137.40 L753.75,137.35 L754.00,137.45 L754.25,137.69 L754.50,138.08 L754.75,138.60 L755.00,139.26 L755.25,140.07 L755.50,141.01 L755.75,142.08 L756.00,143.30 L756.25,144.64 L756.50,146.12 L756.75,147.72 L757.00,149.46 L757.25,151.31 L757.50,153.29 L757.75,155.39 L758.00,157.60 L758.25,159.92 L758.50,162.35 L758.75,164.88 L759.00,167.51 L759.25,170.24 L759.50,173.06 L759.75,175.96 L760.00,178.94 L760.25,181.99 L760.50,185.10 L760.75,188.28 L761.00,191.50 L761.25,194.76 L761.50,198.05 L761.75,201.36 L762.00,204.66 L762.25,207.95 L762.50,211.19 L762.75,214.35 L763.00,217.40 L763.25,220.28 L763.50,222.92 L763.75,225.23 L764.00,227.11 L764.25,228.43 L764.50,229.09 L764.75,229.08 L765.00,228.64 L765.25,227.82 L765.50,226.68 L765.75,225.26 L766.00,223.61 L766.25,221.80 L766.50,219.86 L766.75,217.83 L767.00,215.74 L767.25,213.63 L767.50,211.50 L767.75,209.38 L768.00,207.29 L768.25,205.24 L768.50,203.24 L768.75,201.30 L769.00,199.43 L769.25,197.63 L769.50,195.92 L769.75,194.31 L770.00,192.79 L770.25,191.38 L770.50,190.07 L770.75,188.87 L771.00,187.79 L771.25,186.84 L771.50,186.00 L771.75,185.28 L772.00,184.70 L772.25,184.24 L772.50,183.91 L772.75,183.72 L773.00,183.65 L773.25,183.71 L773.50,183.90 L773.75,184.22 L774.00,184.66 L774.25,185.22 L774.50,185.90 L774.75,186.71 L775.00,187.63 L775.25,188.67 L775.50,189.81 L775.75,191.07 L776.00,192.42 L776.25,193.88 L776.50,195.43 L776.75,197.07 L777.00,198.79 L777.25,200.58 L777.50,202.44 L777.75,204.36 L778.00,206.32 L778.25,208.32 L778.50,210.35 L778.75,212.38 L779.00,214.40 L779.25,216.39 L779.50,218.33 L779.75,220.19 L780.00,221.93 L780.25,223.52 L780.50,224.92 L780.75,226.07 L781.00,226.93 L781.25,227.47 L781.50,227.65 L781.75,227.29 L782.00,226.24 L782.25,224.60 L782.50,222.45 L782.75,219.93 L783.00,217.11 L783.25,214.08 L783.50,210.89 L783.75,207.59 L784.00,204.20 L784.25,200.77 L784.50,197.29 L784.75,193.80 L785.00,190.31 L785.25,186.82 L785.50,183.35 L785.75,179.91 L786.00,176.49 L786.25,173.11 L786.50,169.78 L786.75,166.49 L787.00,163.26 L787.25,160.09 L787.50,156.97 L787.75,153.92 L788.00,150.94 L788.25,148.03 L788.50,145.19 L788.75,142.43 L789.00,139.76 L789.25,137.16 L789.50,134.65 L789.75,132.23 L790.00,129.90 L790.25,127.67 L790.50,125.52 L790.75,123.48 L791.00,121.53 L791.25,119.68 L791.50,117.94 L791.75,116.30 L792.00,114.76 L792.25,113.33 L792.50,112.01 L792.75,110.80 L793.00,109.70 L793.25,108.71 L793.50,107.83 L793.75,107.06 L794.00,106.41 L794.25,105.87 L794.50,105.44 L794.75,105.13 L795.00,104.93 L795.25,104.85 L795.50,104.91 L795.75,105.15 L796.00,105.57 L796.25,106.17 L796.50,106.96 L796.75,107.92 L797.00,109.07 L797.25,110.39 L797.50,111.89 L797.75,113.56 L798.00,115.40 L798.25,117.42 L798.50,119.60 L798.75,121.94 L799.00,124.44 L799.25,127.10 L799.50,129.92 L799.75,132.88 L800.00,135.99 L800.25,139.24 L800.50,142.62 L800.75,146.14 L801.00,149.78 L801.25,153.54 L801.50,157.42 L801.75,161.41 L802.00,165.49 L802.25,169.68 L802.50,173.95 L802.75,178.30 L803.00,182.72 L803.25,187.20 L803.50,191.72 L803.75,196.29 L804.00,200.86 L804.25,205.44 L804.50,209.98 L804.75,214.44 L805.00,218.77 L805.25,222.89 L805.50,226.64 L805.75,229.81 L806.00,232.09 L806.25,233.12 L806.50,232.60 L806.75,230.52 L807.00,227.28 L807.25,223.32 L807.50,218.89 L807.75,214.19 L808.00,209.33 L808.25,204.36 L808.50,199.34 L808.75,194.29 L809.00,189.24 L809.25,184.20 L809.50,179.19 L809.75,174.22 L810.00,169.29 L810.25,164.43 L810.50,159.62 L810.75,154.89 L811.00,150.23 L811.25,145.66 L811.50,141.17 L811.75,136.78 L812.00,132.48 L812.25,128.29 L812.50,124.20 L812.75,120.22 L813.00,116.36 L813.25,112.61 L813.50,108.99 L813.75,105.50 L814.00,102.13 L814.25,98.90 L814.50,95.80"/>
<text class="tt" x="465.2" y="40" text-anchor="middle">Surface tidal current speed, knots</text>
</g>
<g id="bottom">
<clipPath id="c2"><rect x="116.0" y="335.0" width="699.0" height="199.0"/></clipPath>
<path class="ax" d="M203.5,533.5v-7.5M203.5,335.5v7.5M290.5,533.5v-7.5M290.5,335.5v7.5M377.5,533.5v-7.5M377.5,335.5v7.5M465.5,533.5v-7.5M465.5,335.5v7.5M552.5,533.5v-7.5M552.5,335.5v7.5M640.5,533.5v-7.5M640.5,335.5v7.5M727.5,533.5v-7.5M727.5,335.5v7.5M116.5,533.5h7.5M814.5,533.5h-7.5M116.5,483.5h7.5M814.5,483.5h-7.5M116.5,434.5h7.5M814.5,434.5h-7.5M116.5,384.5h7.5M814.5,384.5h-7.5M116.5,335.5h7.5M814.5,335.5h-7.5"/>
<rect class="ax" x="116.5" y="335.5" width="698.0" height="198.0"/>
<text class="tk" x="202.20" y="563" text-anchor="middle">Sun</text>
<text class="tk" x="289.95" y="563" text-anchor="middle">Mon</text>
<text class="tk" x="377.50" y="563" text-anchor="middle">Tue</text>
<text class="tk" x="464.55" y="563" text-anchor="middle">Wed</text>
<text class="tk" x="552.70" y="563" text-anchor="middle">Thu</text>
<text class="tk" x="640.20" y="563" text-anchor="middle">Fri</text>
<text class="tk" x="727.25" y="563" text-anchor="middle">Sat</text>
<text class="tk" x="107.60" y="541" text-anchor="end">-0.2</text>
<text class="tk" x="107.05" y="491" text-anchor="end">-0.1</text>
<text class="tk" x="107.05" y="442" text-anchor="end">0</text>
<text class="tk" x="108.10" y="392" text-anchor="end">0.1</text>
<text class="tk" x="108.10" y="343" text-anchor="end">0.2</text>
<path class="ln" clip-path="url(#c2)" d="M116.50,459.56 L116.75,459.88 L117.00,460.18 L117.25,460.46 L117.50,460.72 L117.75,460.96 L118.00,461.18 L118.25,461.37 L118.50,461.53 L118.75,461.67 L119.00,461.79 L119.25,461.87 L119.50,461.94 L119.75,461.97 L120.00,461.97 L120.25,461.95 L120.50,461.90 L120.75,461.82 L121.00,461.72 L121.25,461.58 L121.50,461.42 L121.75,461.22 L122.00,461.00 L122.25,460.75 L122.50,460.47 L122.75,460.17 L123.00,459.83 L123.25,459.47 L123.50,459.08 L123.75,458.67 L124.00,458.23 L124.25,457.76 L124.50,457.27 L124.75,456.75 L125.00,456.21 L125.25,455.65 L125.50,455.06 L125.75,454.44 L126.00,453.81 L126.25,453.15 L126.50,452.47 L126.75,451.78 L127.00,451.05 L127.25,450.31 L127.50,449.55 L127.75,448.77 L128.00,447.97 L128.25,447.15 L128.50,446.31 L128.75,445.46 L129.00,444.58 L129.25,443.69 L129.50,442.78 L129.75,441.85 L130.00,440.91 L130.25,439.94 L130.50,438.97 L130.75,437.97 L131.00,436.96 L131.25,435.94 L131.50,434.89 L131.75,433.84 L132.00,432.77 L132.25,431.68 L132.50,430.58 L132.75,429.47 L133.00,428.35 L133.25,427.21 L133.50,426.07 L133.75,424.91 L134.00,423.74 L134.25,422.57 L134.50,421.38 L134.75,420.19 L135.00,418.99 L135.25,417.79 L135.50,416.58 L135.75,415.37 L136.00,414.16 L136.25,412.95 L136.50,411.74 L136.75,410.53 L137.00,409.32 L137.25,408.12 L137.50,406.93 L137.75,405.74 L138.00,404.56 L138.25,403.39 L138.50,402.23 L138.75,401.09 L139.00,399.96 L139.25,398.85 L139.50,397.76 L139.75,396.68 L140.00,395.62 L140.25,394.59 L140.50,393.58 L140.75,392.59 L141.00,391.63 L141.25,390.69 L141.50,389.79 L141.75,388.91 L142.00,388.06 L142.25,387.24 L142.50,386.45 L142.75,385.69 L143.00,384.96 L143.25,384.27 L143.50,383.61 L143.75,382.98 L144.00,382.39 L144.25,381.83 L144.50,381.30 L144.75,380.81 L145.00,380.35 L145.25,379.93 L145.50,379.54 L145.75,379.19 L146.00,378.87 L146.25,378.58 L146.50,378.33 L146.75,378.11 L147.00,377.92 L147.25,377.76 L147.50,377.64 L147.75,377.55 L148.00,377.48 L148.25,377.45 L148.50,377.45 L148.75,377.48 L149.00,377.53 L149.25,377.62 L149.50,377.73 L149.75,377.87 L150.00,378.04 L150.25,378.23 L150.50,378.45 L150.75,378.70 L151.00,378.97 L151.25,379.26 L151.50,379.58 L151.75,379.93 L152.00,380.29 L152.25,380.68 L152.50,381.10 L152.75,381.53 L153.00,381.99 L153.25,382.47 L153.50,382.97 L153.75,383.49 L154.00,384.04 L154.25,384.60 L154.50,385.18 L154.75,385.79 L155.00,386.41 L155.25,387.05 L155.50,387.71 L155.75,388.38 L156.00,389.08 L156.25,389.79 L156.50,390.51 L156.75,391.26 L157.00,392.01 L157.25,392.79 L157.50,393.57 L157.75,394.37 L158.00,395.18 L158.25,396.00 L158.50,396.84 L158.75,397.68 L159.00,398.53 L159.25,399.39 L159.50,400.26 L159.75,401.13 L160.00,402.01 L160.25,402.90 L160.50,403.79 L160.75,404.68 L161.00,405.57 L161.25,406.47 L161.50,407.36 L161.75,408.26 L162.00,409.15 L162.25,410.04 L162.50,410.93 L162.75,411.81 L163.00,412.70 L163.25,413.57 L163.50,414.44 L163.75,415.31 L164.00,416.16 L164.25,417.01 L164.50,417.85 L164.75,418.69 L165.00,419.51 L165.25,420.33 L165.50,421.14 L165.75,421.93 L166.00,422.72 L166.25,423.50 L166.50,424.27 L166.75,425.03 L167.00,425.77 L167.25,426.51 L167.50,427.24 L167.75,427.95 L168.00,428.66 L168.25,429.36 L168.50,430.04 L168.75,430.72 L169.00,431.38 L169.25,432.04 L169.50,432.68 L169.75,433.32 L170.00,433.94 L170.25,434.56 L170.50,435.16 L170.75,435.75 L171.00,436.34 L171.25,436.91 L171.50,437.47 L171.75,438.02 L172.00,438.57 L172.25,439.10 L172.50,439.61 L172.75,440.12 L173.00,440.62 L173.25,441.10 L173.50,441.57 L173.75,442.03 L174.00,442.48 L174.25,442.91 L174.50,443.33 L174.75,443.73 L175.00,444.12 L175.25,444.50 L175.50,444.85 L175.75,445.20 L176.00,445.53 L176.25,445.84 L176.50,446.14 L176.75,446.41 L177.00,446.68 L177.25,446.92 L177.50,447.15 L177.75,447.36 L178.00,447.56 L178.25,447.73 L178.50,447.89 L178.75,448.04 L179.00,448.16 L179.25,448.28 L179.50,448.37 L179.75,448.45 L180.00,448.51 L180.25,448.56 L180.50,448.60 L180.75,448.62 L181.00,448.63 L181.25,448.63 L181.50,448.62 L181.75,448.60 L182.00,448.56 L182.25,448.53 L182.50,448.48 L182.75,448.43 L183.00,448.37 L183.25,448.31 L183.50,448.24 L183.75,448.18 L184.00,448.11 L184.25,448.05 L184.50,447.98 L184.75,447.92 L185.00,447.86 L185.25,447.81 L185.50,447.76 L185.75,447.72 L186.00,447.68 L186.25,447.66 L186.50,447.64 L186.75,447.64 L187.00,447.64 L187.25,447.65 L187.50,447.68 L187.75,447.72 L188.00,447.77 L188.25,447.83 L188.50,447.91 L188.75,448.00 L189.00,448.10 L189.25,448.21 L189.50,448.34 L189.75,448.49 L190.00,448.64 L190.25,448.81 L190.50,448.99 L190.75,449.18 L191.00,449.39 L191.25,449.61 L191.50,449.83 L191.75,450.07 L192.00,450.32 L192.25,450.58 L192.50,450.84 L192.75,451.12 L193.00,451.40 L193.25,451.69 L193.50,451.99 L193.75,452.29 L194.00,452.59 L194.25,452.90 L194.50,453.21 L194.75,453.53 L195.00,453.84 L195.25,454.16 L195.50,454.48 L195.75,454.80 L196.00,455.12 L196.25,455.44 L196.50,455.75 L196.75,456.07 L197.00,456.38 L197.25,456.69 L197.50,456.99 L197.75,457.29 L198.00,457.58 L198.25,457.87 L198.50,458.15 L198.75,458.43 L199.00,458.70 L199.25,458.96 L199.50,459.21 L199.75,459.46 L200.00,459.69 L200.25,459.92 L200.50,460.14 L200.75,460.35 L201.00,460.55 L201.25,460.74 L201.50,460.92 L201.75,461.08 L202.00,461.24 L202.25,461.38 L202.50,461.51 L202.75,461.63 L203.00,461.73 L203.25,461.82 L203.50,461.90 L203.75,461.96 L204.00,462.01 L204.25,462.04 L204.50,462.05 L204.75,462.05 L205.00,462.03 L205.25,462.00 L205.50,461.95 L205.75,461.88 L206.00,461.79 L206.25,461.68 L206.50,461.55 L206.75,461.41 L207.00,461.24 L207.25,461.06 L207.50,460.86 L207.75,460.63 L208.00,460.39 L208.25,460.12 L208.50,459.84 L208.75,459.53 L209.00,459.20 L209.25,458.86 L209.50,458.49 L209.75,458.10 L210.00,457.69 L210.25,457.26 L210.50,456.81 L210.75,456.33 L211.00,455.84 L211.25,455.33 L211.50,454.80 L211.75,454.24 L212.00,453.67 L212.25,453.08 L212.50,452.47 L212.75,451.84 L213.00,451.19 L213.25,450.53 L213.50,449.84 L213.75,449.14 L214.00,448.42 L214.25,447.68 L214.50,446.93 L214.75,446.15 L215.00,445.37 L215.25,444.56 L215.50,443.74 L215.75,442.90 L216.00,442.05 L216.25,441.18 L216.50,440.30 L216.75,439.40 L217.00,438.48 L217.25,437.55 L217.50,436.60 L217.75,435.64 L218.00,434.67 L218.25,433.68 L218.50,432.68 L218.75,431.66 L219.00,430.63 L219.25,429.58 L219.50,428.52 L219.75,427.45 L220.00,426.36 L220.25,425.26 L220.50,424.14 L220.75,423.02 L221.00,421.88 L221.25,420.73 L221.50,419.57 L221.75,418.39 L222.00,417.21 L222.25,416.02 L222.50,414.81 L222.75,413.60 L223.00,412.38 L223.25,411.15 L223.50,409.92 L223.75,408.68 L224.00,407.43 L224.25,406.18 L224.50,404.93 L224.75,403.68 L225.00,402.42 L225.25,401.17 L225.50,399.92 L225.75,398.67 L226.00,397.42 L226.25,396.18 L226.50,394.95 L226.75,393.73 L227.00,392.51 L227.25,391.31 L227.50,390.12 L227.75,388.94 L228.00,387.78 L228.25,386.63 L228.50,385.51 L228.75,384.40 L229.00,383.31 L229.25,382.25 L229.50,381.21 L229.75,380.19 L230.00,379.20 L230.25,378.24 L230.50,377.31 L230.75,376.41 L231.00,375.53 L231.25,374.69 L231.50,373.88 L231.75,373.11 L232.00,372.37 L232.25,371.66 L232.50,370.99 L232.75,370.36 L233.00,369.77 L233.25,369.21 L233.50,368.69 L233.75,368.20 L234.00,367.76 L234.25,367.36 L234.50,366.99 L234.75,366.66 L235.00,366.37 L235.25,366.13 L235.50,365.92 L235.75,365.75 L236.00,365.61 L236.25,365.52 L236.50,365.47 L236.75,365.45 L237.00,365.47 L237.25,365.53 L237.50,365.62 L237.75,365.75 L238.00,365.92 L238.25,366.13 L238.50,366.37 L238.75,366.64 L239.00,366.95 L239.25,367.29 L239.50,367.67 L239.75,368.07 L240.00,368.51 L240.25,368.99 L240.50,369.49 L240.75,370.02 L241.00,370.58 L241.25,371.18 L241.50,371.80 L241.75,372.45 L242.00,373.12 L242.25,373.83 L242.50,374.56 L242.75,375.31 L243.00,376.09 L243.25,376.90 L243.50,377.73 L243.75,378.58 L244.00,379.45 L244.25,380.34 L244.50,381.26 L244.75,382.20 L245.00,383.15 L245.25,384.12 L245.50,385.12 L245.75,386.12 L246.00,387.15 L246.25,388.19 L246.50,389.24 L246.75,390.31 L247.00,391.39 L247.25,392.48 L247.50,393.58 L247.75,394.70 L248.00,395.82 L248.25,396.95 L248.50,398.09 L248.75,399.23 L249.00,400.38 L249.25,401.54 L249.50,402.70 L249.75,403.86 L250.00,405.02 L250.25,406.19 L250.50,407.36 L250.75,408.53 L251.00,409.69 L251.25,410.86 L251.50,412.02 L251.75,413.18 L252.00,414.34 L252.25,415.50 L252.50,416.65 L252.75,417.79 L253.00,418.93 L253.25,420.07 L253.50,421.20 L253.75,422.32 L254.00,423.44 L254.25,424.55 L254.50,425.65 L254.75,426.75 L255.00,427.84 L255.25,428.92 L255.50,429.99 L255.75,431.06 L256.00,432.12 L256.25,433.17 L256.50,434.22 L256.75,435.25 L257.00,436.28 L257.25,437.30 L257.50,438.32 L257.75,439.32 L258.00,440.32 L258.25,441.31 L258.50,442.29 L258.75,443.26 L259.00,444.23 L259.25,445.18 L259.50,446.13 L259.75,447.06 L260.00,447.99 L260.25,448.91 L260.50,449.82 L260.75,450.72 L261.00,451.60 L261.25,452.48 L261.50,453.34 L261.75,454.19 L262.00,455.03 L262.25,455.85 L262.50,456.66 L262.75,457.46 L263.00,458.24 L263.25,459.00 L263.50,459.75 L263.75,460.47 L264.00,461.18 L264.25,461.88 L264.50,462.55 L264.75,463.20 L265.00,463.83 L265.25,464.43 L265.50,465.02 L265.75,465.58 L266.00,466.12 L266.25,466.63 L266.50,467.12 L266.75,467.59 L267.00,468.02 L267.25,468.44 L267.50,468.82 L267.75,469.18 L268.00,469.52 L268.25,469.82 L268.50,470.11 L268.75,470.36 L269.00,470.59 L269.25,470.79 L269.50,470.97 L269.75,471.13 L270.00,471.25 L270.25,471.36 L270.50,471.44 L270.75,471.50 L271.00,471.54 L271.25,471.56 L271.50,471.56 L271.75,471.54 L272.00,471.50 L272.25,471.45 L272.50,471.38 L272.75,471.30 L273.00,471.20 L273.25,471.10 L273.50,470.98 L273.75,470.86 L274.00,470.72 L274.25,470.58 L274.50,470.44 L274.75,470.29 L275.00,470.14 L275.25,469.99 L275.50,469.84 L275.75,469.69 L276.00,469.55 L276.25,469.40 L276.50,469.26 L276.75,469.13 L277.00,469.01 L277.25,468.89 L277.50,468.78 L277.75,468.67 L278.00,468.58 L278.25,468.50 L278.50,468.43 L278.75,468.37 L279.00,468.32 L279.25,468.28 L279.50,468.25 L279.75,468.24 L280.00,468.23 L280.25,468.24 L280.50,468.26 L280.75,468.29 L281.00,468.34 L281.25,468.39 L281.50,468.45 L281.75,468.53 L282.00,468.61 L282.25,468.70 L282.50,468.80 L282.75,468.90 L283.00,469.01 L283.25,469.13 L283.50,469.26 L283.75,469.38 L284.00,469.51 L284.25,469.65 L284.50,469.78 L284.75,469.92 L285.00,470.05 L285.25,470.18 L285.50,470.32 L285.75,470.44 L286.00,470.57 L286.25,470.69 L286.50,470.80 L286.75,470.91 L287.00,471.01 L287.25,471.10 L287.50,471.19 L287.75,471.26 L288.00,471.32 L288.25,471.38 L288.50,471.42 L288.75,471.44 L289.00,471.46 L289.25,471.46 L289.50,471.45 L289.75,471.42 L290.00,471.38 L290.25,471.32 L290.50,471.24 L290.75,471.15 L291.00,471.04 L291.25,470.92 L291.50,470.77 L291.75,470.61 L292.00,470.43 L292.25,470.24 L292.50,470.02 L292.75,469.79 L293.00,469.54 L293.25,469.27 L293.50,468.98 L293.75,468.67 L294.00,468.34 L294.25,468.00 L294.50,467.63 L294.75,467.25 L295.00,466.85 L295.25,466.43 L295.50,465.99 L295.75,465.54 L296.00,465.07 L296.25,464.57 L296.50,464.07 L296.75,463.54 L297.00,463.00 L297.25,462.44 L297.50,461.86 L297.75,461.27 L298.00,460.67 L298.25,460.04 L298.50,459.40 L298.75,458.75 L299.00,458.08 L299.25,457.39 L299.50,456.70 L299.75,455.98 L300.00,455.26 L300.25,454.51 L300.50,453.76 L300.75,452.99 L301.00,452.21 L301.25,451.42 L301.50,450.61 L301.75,449.79 L302.00,448.96 L302.25,448.11 L302.50,447.26 L302.75,446.39 L303.00,445.50 L303.25,444.61 L303.50,443.71 L303.75,442.79 L304.00,441.86 L304.25,440.92 L304.50,439.96 L304.75,439.00 L305.00,438.02 L305.25,437.03 L305.50,436.03 L305.75,435.02 L306.00,433.99 L306.25,432.95 L306.50,431.90 L306.75,430.84 L307.00,429.77 L307.25,428.68 L307.50,427.58 L307.75,426.47 L308.00,425.35 L308.25,424.22 L308.50,423.07 L308.75,421.91 L309.00,420.74 L309.25,419.56 L309.50,418.36 L309.75,417.16 L310.00,415.94 L310.25,414.72 L310.50,413.48 L310.75,412.24 L311.00,410.98 L311.25,409.72 L311.50,408.45 L311.75,407.17 L312.00,405.88 L312.25,404.59 L312.50,403.29 L312.75,401.99 L313.00,400.69 L313.25,399.38 L313.50,398.07 L313.75,396.76 L314.00,395.45 L314.25,394.14 L314.50,392.83 L314.75,391.53 L315.00,390.23 L315.25,388.94 L315.50,387.65 L315.75,386.38 L316.00,385.11 L316.25,383.86 L316.50,382.62 L316.75,381.39 L317.00,380.18 L317.25,378.98 L317.50,377.80 L317.75,376.65 L318.00,375.51 L318.25,374.39 L318.50,373.30 L318.75,372.24 L319.00,371.20 L319.25,370.18 L319.50,369.20 L319.75,368.24 L320.00,367.32 L320.25,366.42 L320.50,365.57 L320.75,364.74 L321.00,363.95 L321.25,363.20 L321.50,362.48 L321.75,361.80 L322.00,361.16 L322.25,360.56 L322.50,359.99 L322.75,359.47 L323.00,358.99 L323.25,358.56 L323.50,358.16 L323.75,357.81 L324.00,357.50 L324.25,357.23 L324.50,357.01 L324.75,356.83 L325.00,356.69 L325.25,356.60 L325.50,356.55 L325.75,356.55 L326.00,356.59 L326.25,356.67 L326.50,356.80 L326.75,356.97 L327.00,357.19 L327.25,357.45 L327.50,357.75 L327.75,358.09 L328.00,358.48 L328.25,358.90 L328.50,359.37 L328.75,359.88 L329.00,360.43 L329.25,361.02 L329.50,361.64 L329.75,362.31 L330.00,363.01 L330.25,363.75 L330.50,364.52 L330.75,365.33 L331.00,366.17 L331.25,367.05 L331.50,367.96 L331.75,368.90 L332.00,369.87 L332.25,370.87 L332.50,371.90 L332.75,372.95 L333.00,374.04 L333.25,375.15 L333.50,376.28 L333.75,377.43 L334.00,378.61 L334.25,379.81 L334.50,381.03 L334.75,382.27 L335.00,383.52 L335.25,384.79 L335.50,386.08 L335.75,387.38 L336.00,388.69 L336.25,390.02 L336.50,391.36 L336.75,392.71 L337.00,394.06 L337.25,395.43 L337.50,396.80 L337.75,398.18 L338.00,399.56 L338.25,400.95 L338.50,402.34 L338.75,403.73 L339.00,405.13 L339.25,406.53 L339.50,407.92 L339.75,409.32 L340.00,410.71 L340.25,412.11 L340.50,413.50 L340.75,414.89 L341.00,416.27 L341.25,417.66 L341.50,419.04 L341.75,420.41 L342.00,421.78 L342.25,423.15 L342.50,424.51 L342.75,425.87 L343.00,427.22 L343.25,428.57 L343.50,429.91 L343.75,431.24 L344.00,432.58 L344.25,433.90 L344.50,435.22 L344.75,436.54 L345.00,437.85 L345.25,439.16 L345.50,440.46 L345.75,441.75 L346.00,443.04 L346.25,444.32 L346.50,445.60 L346.75,446.88 L347.00,448.15 L347.25,449.41 L347.50,450.66 L347.75,451.91 L348.00,453.16 L348.25,454.40 L348.50,455.63 L348.75,456.85 L349.00,458.06 L349.25,459.27 L349.50,460.47 L349.75,461.65 L350.00,462.83 L350.25,464.00 L350.50,465.15 L350.75,466.29 L351.00,467.42 L351.25,468.54 L351.50,469.64 L351.75,470.72 L352.00,471.79 L352.25,472.84 L352.50,473.87 L352.75,474.88 L353.00,475.87 L353.25,476.83 L353.50,477.78 L353.75,478.70 L354.00,479.59 L354.25,480.46 L354.50,481.30 L354.75,482.12 L355.00,482.90 L355.25,483.66 L355.50,484.38 L355.75,485.07 L356.00,485.74 L356.25,486.36 L356.50,486.96 L356.75,487.52 L357.00,488.05 L357.25,488.54 L357.50,489.00 L357.75,489.43 L358.00,489.81 L358.25,490.17 L358.50,490.49 L358.75,490.77 L359.00,491.03 L359.25,491.24 L359.50,491.43 L359.75,491.58 L360.00,491.70 L360.25,491.79 L360.50,491.85 L360.75,491.88 L361.00,491.88 L361.25,491.85 L361.50,491.80 L361.75,491.72 L362.00,491.62 L362.25,491.50 L362.50,491.35 L362.75,491.19 L363.00,491.01 L363.25,490.81 L363.50,490.60 L363.75,490.38 L364.00,490.14 L364.25,489.89 L364.50,489.64 L364.75,489.37 L365.00,489.11 L365.25,488.83 L365.50,488.56 L365.75,488.28 L366.00,488.01 L366.25,487.74 L366.50,487.46 L366.75,487.20 L367.00,486.94 L367.25,486.68 L367.50,486.43 L367.75,486.19 L368.00,485.96 L368.25,485.74 L368.50,485.53 L368.75,485.33 L369.00,485.14 L369.25,484.96 L369.50,484.80 L369.75,484.65 L370.00,484.51 L370.25,484.38 L370.50,484.26 L370.75,484.16 L371.00,484.06 L371.25,483.98 L371.50,483.91 L371.75,483.85 L372.00,483.80 L372.25,483.76 L372.50,483.72 L372.75,483.70 L373.00,483.67 L373.25,483.66 L373.50,483.65 L373.75,483.64 L374.00,483.64 L374.25,483.63 L374.50,483.63 L374.75,483.62 L375.00,483.62 L375.25,483.60 L375.50,483.59 L375.75,483.57 L376.00,483.54 L376.25,483.50 L376.50,483.46 L376.75,483.40 L377.00,483.34 L377.25,483.26 L377.50,483.16 L377.75,483.06 L378.00,482.93 L378.25,482.79 L378.50,482.64 L378.75,482.46 L379.00,482.27 L379.25,482.06 L379.50,481.82 L379.75,481.57 L380.00,481.30 L380.25,481.00 L380.50,480.68 L380.75,480.35 L381.00,479.99 L381.25,479.60 L381.50,479.20 L381.75,478.77 L382.00,478.32 L382.25,477.85 L382.50,477.35 L382.75,476.84 L383.00,476.30 L383.25,475.74 L383.50,475.16 L383.75,474.56 L384.00,473.94 L384.25,473.30 L384.50,472.64 L384.75,471.96 L385.00,471.27 L385.25,470.55 L385.50,469.82 L385.75,469.08 L386.00,468.31 L386.25,467.53 L386.50,466.74 L386.75,465.93 L387.00,465.11 L387.25,464.28 L387.50,463.43 L387.75,462.58 L388.00,461.71 L388.25,460.83 L388.50,459.94 L388.75,459.04 L389.00,458.12 L389.25,457.20 L389.50,456.27 L389.75,455.34 L390.00,454.39 L390.25,453.43 L390.50,452.47 L390.75,451.50 L391.00,450.52 L391.25,449.53 L391.50,448.53 L391.75,447.53 L392.00,446.52 L392.25,445.50 L392.50,444.47 L392.75,443.43 L393.00,442.39 L393.25,441.33 L393.50,440.27 L393.75,439.20 L394.00,438.11 L394.25,437.02 L394.50,435.92 L394.75,434.81 L395.00,433.69 L395.25,432.56 L395.50,431.42 L395.75,430.27 L396.00,429.10 L396.25,427.93 L396.50,426.74 L396.75,425.55 L397.00,424.34 L397.25,423.12 L397.50,421.89 L397.75,420.65 L398.00,419.40 L398.25,418.14 L398.50,416.87 L398.75,415.58 L399.00,414.29 L399.25,412.98 L399.50,411.67 L399.75,410.35 L400.00,409.02 L400.25,407.68 L400.50,406.33 L400.75,404.98 L401.00,403.62 L401.25,402.26 L401.50,400.89 L401.75,399.52 L402.00,398.14 L402.25,396.76 L402.50,395.38 L402.75,394.00 L403.00,392.63 L403.25,391.25 L403.50,389.88 L403.75,388.51 L404.00,387.14 L404.25,385.78 L404.50,384.43 L404.75,383.09 L405.00,381.76 L405.25,380.44 L405.50,379.13 L405.75,377.84 L406.00,376.56 L406.25,375.29 L406.50,374.05 L406.75,372.82 L407.00,371.61 L407.25,370.42 L407.50,369.26 L407.75,368.12 L408.00,367.01 L408.25,365.92 L408.50,364.85 L408.75,363.82 L409.00,362.82 L409.25,361.85 L409.50,360.91 L409.75,360.00 L410.00,359.13 L410.25,358.29 L410.50,357.49 L410.75,356.72 L411.00,356.00 L411.25,355.31 L411.50,354.67 L411.75,354.06 L412.00,353.50 L412.25,352.98 L412.50,352.51 L412.75,352.08 L413.00,351.69 L413.25,351.35 L413.50,351.06 L413.75,350.81 L414.00,350.62 L414.25,350.47 L414.50,350.36 L414.75,350.31 L415.00,350.31 L415.25,350.35 L415.50,350.45 L415.75,350.59 L416.00,350.79 L416.25,351.03 L416.50,351.32 L416.75,351.67 L417.00,352.06 L417.25,352.50 L417.50,352.99 L417.75,353.53 L418.00,354.12 L418.25,354.75 L418.50,355.43 L418.75,356.16 L419.00,356.93 L419.25,357.75 L419.50,358.61 L419.75,359.51 L420.00,360.46 L420.25,361.44 L420.50,362.47 L420.75,363.53 L421.00,364.63 L421.25,365.77 L421.50,366.94 L421.75,368.15 L422.00,369.38 L422.25,370.65 L422.50,371.95 L422.75,373.27 L423.00,374.63 L423.25,376.00 L423.50,377.40 L423.75,378.82 L424.00,380.27 L424.25,381.73 L424.50,383.20 L424.75,384.70 L425.00,386.21 L425.25,387.73 L425.50,389.26 L425.75,390.81 L426.00,392.36 L426.25,393.92 L426.50,395.49 L426.75,397.06 L427.00,398.64 L427.25,400.22 L427.50,401.81 L427.75,403.39 L428.00,404.98 L428.25,406.57 L428.50,408.15 L428.75,409.74 L429.00,411.32 L429.25,412.90 L429.50,414.48 L429.75,416.05 L430.00,417.62 L430.25,419.19 L430.50,420.75 L430.75,422.31 L431.00,423.86 L431.25,425.41 L431.50,426.95 L431.75,428.49 L432.00,430.03 L432.25,431.56 L432.50,433.09 L432.75,434.61 L433.00,436.13 L433.25,437.65 L433.50,439.16 L433.75,440.67 L434.00,442.17 L434.25,443.67 L434.50,445.17 L434.75,446.67 L435.00,448.16 L435.25,449.65 L435.50,451.14 L435.75,452.62 L436.00,454.10 L436.25,455.58 L436.50,457.05 L436.75,458.52 L437.00,459.99 L437.25,461.45 L437.50,462.91 L437.75,464.36 L438.00,465.81 L438.25,467.24 L438.50,468.68 L438.75,470.10 L439.00,471.51 L439.25,472.92 L439.50,474.31 L439.75,475.69 L440.00,477.06 L440.25,478.42 L440.50,479.76 L440.75,481.09 L441.00,482.39 L441.25,483.68 L441.50,484.95 L441.75,486.20 L442.00,487.43 L442.25,488.63 L442.50,489.80 L442.75,490.96 L443.00,492.08 L443.25,493.17 L443.50,494.24 L443.75,495.27 L444.00,496.27 L444.25,497.24 L444.50,498.17 L444.75,499.07 L445.00,499.93 L445.25,500.75 L445.50,501.54 L445.75,502.28 L446.00,502.99 L446.25,503.65 L446.50,504.28 L446.75,504.86 L447.00,505.40 L447.25,505.90 L447.50,506.36 L447.75,506.78 L448.00,507.15 L448.25,507.48 L448.50,507.77 L448.75,508.02 L449.00,508.23 L449.25,508.40 L449.50,508.53 L449.75,508.63 L450.00,508.68 L450.25,508.70 L450.50,508.68 L450.75,508.63 L451.00,508.55 L451.25,508.44 L451.50,508.29 L451.75,508.12 L452.00,507.92 L452.25,507.69 L452.50,507.44 L452.75,507.17 L453.00,506.88 L453.25,506.57 L453.50,506.24 L453.75,505.90 L454.00,505.54 L454.25,505.17 L454.50,504.79 L454.75,504.41 L455.00,504.02 L455.25,503.62 L455.50,503.22 L455.75,502.82 L456.00,502.42 L456.25,502.03 L456.50,501.63 L456.75,501.24 L457.00,500.86 L457.25,500.48 L457.50,500.11 L457.75,499.75 L458.00,499.40 L458.25,499.06 L458.50,498.74 L458.75,498.42 L459.00,498.12 L459.25,497.83 L459.50,497.56 L459.75,497.30 L460.00,497.05 L460.25,496.81 L460.50,496.59 L460.75,496.39 L461.00,496.19 L461.25,496.01 L461.50,495.84 L461.75,495.68 L462.00,495.53 L462.25,495.39 L462.50,495.26 L462.75,495.14 L463.00,495.02 L463.25,494.91 L463.50,494.80 L463.75,494.70 L464.00,494.59 L464.25,494.49 L464.50,494.38 L464.75,494.28 L465.00,494.16 L465.25,494.05 L465.50,493.92 L465.75,493.79 L466.00,493.64 L466.25,493.49 L466.50,493.32 L466.75,493.14 L467.00,492.94 L467.25,492.73 L467.50,492.49 L467.75,492.24 L468.00,491.97 L468.25,491.68 L468.50,491.37 L468.75,491.04 L469.00,490.68 L469.25,490.30 L469.50,489.89 L469.75,489.46 L470.00,489.01 L470.25,488.53 L470.50,488.02 L470.75,487.49 L471.00,486.94 L471.25,486.35 L471.50,485.75 L471.75,485.11 L472.00,484.46 L472.25,483.78 L472.50,483.07 L472.75,482.34 L473.00,481.59 L473.25,480.82 L473.50,480.03 L473.75,479.21 L474.00,478.38 L474.25,477.53 L474.50,476.66 L474.75,475.77 L475.00,474.86 L475.25,473.94 L475.50,473.01 L475.75,472.06 L476.00,471.10 L476.25,470.13 L476.50,469.14 L476.75,468.15 L477.00,467.14 L477.25,466.13 L477.50,465.10 L477.75,464.07 L478.00,463.03 L478.25,461.99 L478.50,460.93 L478.75,459.87 L479.00,458.81 L479.25,457.74 L479.50,456.66 L479.75,455.58 L480.00,454.50 L480.25,453.40 L480.50,452.31 L480.75,451.20 L481.00,450.10 L481.25,448.98 L481.50,447.86 L481.75,446.74 L482.00,445.61 L482.25,444.47 L482.50,443.32 L482.75,442.17 L483.00,441.01 L483.25,439.84 L483.50,438.66 L483.75,437.48 L484.00,436.28 L484.25,435.08 L484.50,433.86 L484.75,432.64 L485.00,431.40 L485.25,430.16 L485.50,428.90 L485.75,427.64 L486.00,426.36 L486.25,425.07 L486.50,423.77 L486.75,422.46 L487.00,421.13 L487.25,419.80 L487.50,418.46 L487.75,417.10 L488.00,415.73 L488.25,414.36 L488.50,412.97 L488.75,411.58 L489.00,410.17 L489.25,408.76 L489.50,407.34 L489.75,405.92 L490.00,404.48 L490.25,403.05 L490.50,401.60 L490.75,400.16 L491.00,398.71 L491.25,397.26 L491.50,395.80 L491.75,394.35 L492.00,392.90 L492.25,391.45 L492.50,390.00 L492.75,388.56 L493.00,387.12 L493.25,385.68 L493.50,384.26 L493.75,382.84 L494.00,381.43 L494.25,380.04 L494.50,378.65 L494.75,377.28 L495.00,375.92 L495.25,374.57 L495.50,373.25 L495.75,371.94 L496.00,370.64 L496.25,369.37 L496.50,368.12 L496.75,366.89 L497.00,365.69 L497.25,364.50 L497.50,363.35 L497.75,362.22 L498.00,361.12 L498.25,360.04 L498.50,359.00 L498.75,357.99 L499.00,357.01 L499.25,356.07 L499.50,355.15 L499.75,354.28 L500.00,353.44 L500.25,352.64 L500.50,351.88 L500.75,351.16 L501.00,350.48 L501.25,349.84 L501.50,349.25 L501.75,348.70 L502.00,348.20 L502.25,347.74 L502.50,347.33 L502.75,346.97 L503.00,346.66 L503.25,346.40 L503.50,346.19 L503.75,346.03 L504.00,345.93 L504.25,345.87 L504.50,345.88 L504.75,345.93 L505.00,346.04 L505.25,346.20 L505.50,346.42 L505.75,346.70 L506.00,347.03 L506.25,347.42 L506.50,347.86 L506.75,348.36 L507.00,348.91 L507.25,349.52 L507.50,350.18 L507.75,350.90 L508.00,351.67 L508.25,352.49 L508.50,353.36 L508.75,354.29 L509.00,355.26 L509.25,356.29 L509.50,357.36 L509.75,358.47 L510.00,359.64 L510.25,360.84 L510.50,362.09 L510.75,363.38 L511.00,364.70 L511.25,366.07 L511.50,367.47 L511.75,368.90 L512.00,370.36 L512.25,371.86 L512.50,373.38 L512.75,374.93 L513.00,376.50 L513.25,378.10 L513.50,379.72 L513.75,381.35 L514.00,383.00 L514.25,384.67 L514.50,386.35 L514.75,388.05 L515.00,389.75 L515.25,391.46 L515.50,393.18 L515.75,394.91 L516.00,396.64 L516.25,398.37 L516.50,400.11 L516.75,401.85 L517.00,403.58 L517.25,405.32 L517.50,407.05 L517.75,408.79 L518.00,410.51 L518.25,412.24 L518.50,413.96 L518.75,415.68 L519.00,417.39 L519.25,419.10 L519.50,420.80 L519.75,422.50 L520.00,424.19 L520.25,425.88 L520.50,427.56 L520.75,429.24 L521.00,430.91 L521.25,432.58 L521.50,434.24 L521.75,435.90 L522.00,437.56 L522.25,439.21 L522.50,440.87 L522.75,442.51 L523.00,444.16 L523.25,445.81 L523.50,447.45 L523.75,449.09 L524.00,450.73 L524.25,452.37 L524.50,454.01 L524.75,455.65 L525.00,457.29 L525.25,458.93 L525.50,460.56 L525.75,462.20 L526.00,463.83 L526.25,465.46 L526.50,467.09 L526.75,468.71 L527.00,470.33 L527.25,471.95 L527.50,473.56 L527.75,475.17 L528.00,476.77 L528.25,478.36 L528.50,479.94 L528.75,481.51 L529.00,483.07 L529.25,484.62 L529.50,486.15 L529.75,487.67 L530.00,489.17 L530.25,490.66 L530.50,492.12 L530.75,493.57 L531.00,494.99 L531.25,496.39 L531.50,497.76 L531.75,499.10 L532.00,500.42 L532.25,501.71 L532.50,502.96 L532.75,504.18 L533.00,505.37 L533.25,506.52 L533.50,507.64 L533.75,508.72 L534.00,509.76 L534.25,510.75 L534.50,511.71 L534.75,512.62 L535.00,513.49 L535.25,514.31 L535.50,515.09 L535.75,515.83 L536.00,516.52 L536.25,517.16 L536.50,517.75 L536.75,518.30 L537.00,518.80 L537.25,519.25 L537.50,519.66 L537.75,520.01 L538.00,520.33 L538.25,520.59 L538.50,520.81 L538.75,520.98 L539.00,521.11 L539.25,521.20 L539.50,521.24 L539.75,521.25 L540.00,521.21 L540.25,521.13 L540.50,521.02 L540.75,520.87 L541.00,520.68 L541.25,520.46 L541.50,520.21 L541.75,519.93 L542.00,519.62 L542.25,519.29 L542.50,518.93 L542.75,518.55 L543.00,518.15 L543.25,517.73 L543.50,517.29 L543.75,516.84 L544.00,516.37 L544.25,515.90 L544.50,515.41 L544.75,514.92 L545.00,514.43 L545.25,513.93 L545.50,513.43 L545.75,512.92 L546.00,512.43 L546.25,511.93 L546.50,511.44 L546.75,510.96 L547.00,510.48 L547.25,510.02 L547.50,509.56 L547.75,509.11 L548.00,508.68 L548.25,508.26 L548.50,507.86 L548.75,507.47 L549.00,507.09 L549.25,506.73 L549.50,506.38 L549.75,506.05 L550.00,505.73 L550.25,505.43 L550.50,505.15 L550.75,504.88 L551.00,504.62 L551.25,504.38 L551.50,504.14 L551.75,503.92 L552.00,503.71 L552.25,503.51 L552.50,503.32 L552.75,503.14 L553.00,502.96 L553.25,502.79 L553.50,502.61 L553.75,502.44 L554.00,502.27 L554.25,502.10 L554.50,501.93 L554.75,501.75 L555.00,501.56 L555.25,501.36 L555.50,501.16 L555.75,500.94 L556.00,500.71 L556.25,500.47 L556.50,500.21 L556.75,499.93 L557.00,499.64 L557.25,499.32 L557.50,498.98 L557.75,498.63 L558.00,498.24 L558.25,497.84 L558.50,497.41 L558.75,496.95 L559.00,496.47 L559.25,495.96 L559.50,495.42 L559.75,494.86 L560.00,494.27 L560.25,493.65 L560.50,493.01 L560.75,492.33 L561.00,491.63 L561.25,490.91 L561.50,490.15 L561.75,489.38 L562.00,488.57 L562.25,487.75 L562.50,486.89 L562.75,486.02 L563.00,485.12 L563.25,484.21 L563.50,483.27 L563.75,482.31 L564.00,481.34 L564.25,480.35 L564.50,479.34 L564.75,478.32 L565.00,477.28 L565.25,476.23 L565.50,475.17 L565.75,474.10 L566.00,473.02 L566.25,471.93 L566.50,470.83 L566.75,469.72 L567.00,468.61 L567.25,467.49 L567.50,466.36 L567.75,465.23 L568.00,464.09 L568.25,462.95 L568.50,461.80 L568.75,460.65 L569.00,459.50 L569.25,458.34 L569.50,457.18 L569.75,456.01 L570.00,454.84 L570.25,453.67 L570.50,452.49 L570.75,451.30 L571.00,450.11 L571.25,448.92 L571.50,447.72 L571.75,446.51 L572.00,445.29 L572.25,444.07 L572.50,442.84 L572.75,441.60 L573.00,440.36 L573.25,439.10 L573.50,437.83 L573.75,436.56 L574.00,435.27 L574.25,433.97 L574.50,432.66 L574.75,431.34 L575.00,430.01 L575.25,428.67 L575.50,427.31 L575.75,425.95 L576.00,424.57 L576.25,423.18 L576.50,421.78 L576.75,420.36 L577.00,418.94 L577.25,417.50 L577.50,416.05 L577.75,414.60 L578.00,413.13 L578.25,411.66 L578.50,410.17 L578.75,408.68 L579.00,407.18 L579.25,405.68 L579.50,404.17 L579.75,402.66 L580.00,401.14 L580.25,399.62 L580.50,398.10 L580.75,396.57 L581.00,395.05 L581.25,393.53 L581.50,392.01 L581.75,390.49 L582.00,388.98 L582.25,387.47 L582.50,385.97 L582.75,384.48 L583.00,382.99 L583.25,381.52 L583.50,380.05 L583.75,378.60 L584.00,377.16 L584.25,375.73 L584.50,374.32 L584.75,372.93 L585.00,371.55 L585.25,370.19 L585.50,368.84 L585.75,367.52 L586.00,366.22 L586.25,364.94 L586.50,363.68 L586.75,362.45 L587.00,361.25 L587.25,360.07 L587.50,358.91 L587.75,357.79 L588.00,356.69 L588.25,355.63 L588.50,354.60 L588.75,353.60 L589.00,352.63 L589.25,351.70 L589.50,350.81 L589.75,349.96 L590.00,349.14 L590.25,348.37 L590.50,347.63 L590.75,346.94 L591.00,346.30 L591.25,345.70 L591.50,345.14 L591.75,344.64 L592.00,344.18 L592.25,343.77 L592.50,343.42 L592.75,343.12 L593.00,342.87 L593.25,342.67 L593.50,342.54 L593.75,342.45 L594.00,342.43 L594.25,342.46 L594.50,342.56 L594.75,342.71 L595.00,342.92 L595.25,343.20 L595.50,343.53 L595.75,343.92 L596.00,344.38 L596.25,344.90 L596.50,345.47 L596.75,346.11 L597.00,346.81 L597.25,347.57 L597.50,348.39 L597.75,349.26 L598.00,350.19 L598.25,351.18 L598.50,352.22 L598.75,353.32 L599.00,354.47 L599.25,355.67 L599.50,356.92 L599.75,358.22 L600.00,359.56 L600.25,360.95 L600.50,362.38 L600.75,363.85 L601.00,365.36 L601.25,366.90 L601.50,368.48 L601.75,370.09 L602.00,371.73 L602.25,373.40 L602.50,375.09 L602.75,376.80 L603.00,378.54 L603.25,380.29 L603.50,382.07 L603.75,383.85 L604.00,385.65 L604.25,387.46 L604.50,389.28 L604.75,391.11 L605.00,392.94 L605.25,394.77 L605.50,396.61 L605.75,398.45 L606.00,400.29 L606.25,402.13 L606.50,403.97 L606.75,405.80 L607.00,407.63 L607.25,409.46 L607.50,411.28 L607.75,413.09 L608.00,414.90 L608.25,416.70 L608.50,418.50 L608.75,420.29 L609.00,422.08 L609.25,423.86 L609.50,425.63 L609.75,427.40 L610.00,429.16 L610.25,430.92 L610.50,432.67 L610.75,434.42 L611.00,436.17 L611.25,437.91 L611.50,439.65 L611.75,441.39 L612.00,443.13 L612.25,444.86 L612.50,446.60 L612.75,448.33 L613.00,450.07 L613.25,451.80 L613.50,453.54 L613.75,455.27 L614.00,457.01 L614.25,458.75 L614.50,460.49 L614.75,462.23 L615.00,463.97 L615.25,465.71 L615.50,467.45 L615.75,469.20 L616.00,470.93 L616.25,472.67 L616.50,474.41 L616.75,476.14 L617.00,477.87 L617.25,479.59 L617.50,481.30 L617.75,483.01 L618.00,484.71 L618.25,486.39 L618.50,488.07 L618.75,489.73 L619.00,491.38 L619.25,493.01 L619.50,494.63 L619.75,496.22 L620.00,497.79 L620.25,499.34 L620.50,500.87 L620.75,502.37 L621.00,503.84 L621.25,505.28 L621.50,506.69 L621.75,508.07 L622.00,509.41 L622.25,510.72 L622.50,511.99 L622.75,513.22 L623.00,514.41 L623.25,515.56 L623.50,516.67 L623.75,517.73 L624.00,518.75 L624.25,519.72 L624.50,520.64 L624.75,521.52 L625.00,522.34 L625.25,523.12 L625.50,523.85 L625.75,524.53 L626.00,525.16 L626.25,525.74 L626.50,526.26 L626.75,526.74 L627.00,527.16 L627.25,527.54 L627.50,527.86 L627.75,528.14 L628.00,528.37 L628.25,528.55 L628.50,528.68 L628.75,528.76 L629.00,528.80 L629.25,528.79 L629.50,528.75 L629.75,528.65 L630.00,528.52 L630.25,528.35 L630.50,528.15 L630.75,527.90 L631.00,527.62 L631.25,527.31 L631.50,526.97 L631.75,526.60 L632.00,526.21 L632.25,525.79 L632.50,525.34 L632.75,524.88 L633.00,524.40 L633.25,523.89 L633.50,523.38 L633.75,522.85 L634.00,522.31 L634.25,521.77 L634.50,521.22 L634.75,520.66 L635.00,520.10 L635.25,519.54 L635.50,518.98 L635.75,518.42 L636.00,517.87 L636.25,517.32 L636.50,516.78 L636.75,516.25 L637.00,515.73 L637.25,515.22 L637.50,514.73 L637.75,514.24 L638.00,513.77 L638.25,513.32 L638.50,512.88 L638.75,512.46 L639.00,512.05 L639.25,511.66 L639.50,511.29 L639.75,510.93 L640.00,510.59 L640.25,510.27 L640.50,509.96 L640.75,509.66 L641.00,509.38 L641.25,509.11 L641.50,508.86 L641.75,508.61 L642.00,508.38 L642.25,508.15 L642.50,507.93 L642.75,507.72 L643.00,507.51 L643.25,507.31 L643.50,507.10 L643.75,506.89 L644.00,506.68 L644.25,506.47 L644.50,506.25 L644.75,506.03 L645.00,505.79 L645.25,505.55 L645.50,505.29 L645.75,505.01 L646.00,504.73 L646.25,504.42 L646.50,504.09 L646.75,503.75 L647.00,503.38 L647.25,502.99 L647.50,502.58 L647.75,502.14 L648.00,501.68 L648.25,501.19 L648.50,500.68 L648.75,500.13 L649.00,499.56 L649.25,498.96 L649.50,498.34 L649.75,497.68 L650.00,496.99 L650.25,496.28 L650.50,495.54 L650.75,494.77 L651.00,493.98 L651.25,493.16 L651.50,492.31 L651.75,491.44 L652.00,490.54 L652.25,489.62 L652.50,488.68 L652.75,487.72 L653.00,486.73 L653.25,485.73 L653.50,484.71 L653.75,483.67 L654.00,482.62 L654.25,481.55 L654.50,480.47 L654.75,479.38 L655.00,478.27 L655.25,477.15 L655.50,476.03 L655.75,474.89 L656.00,473.75 L656.25,472.59 L656.50,471.44 L656.75,470.27 L657.00,469.10 L657.25,467.93 L657.50,466.75 L657.75,465.56 L658.00,464.38 L658.25,463.18 L658.50,461.99 L658.75,460.79 L659.00,459.58 L659.25,458.38 L659.50,457.16 L659.75,455.94 L660.00,454.72 L660.25,453.49 L660.50,452.26 L660.75,451.02 L661.00,449.77 L661.25,448.52 L661.50,447.26 L661.75,445.98 L662.00,444.70 L662.25,443.42 L662.50,442.12 L662.75,440.81 L663.00,439.49 L663.25,438.16 L663.50,436.81 L663.75,435.46 L664.00,434.09 L664.25,432.71 L664.50,431.32 L664.75,429.92 L665.00,428.50 L665.25,427.07 L665.50,425.63 L665.75,424.17 L666.00,422.71 L666.25,421.23 L666.50,419.74 L666.75,418.24 L667.00,416.72 L667.25,415.20 L667.50,413.67 L667.75,412.13 L668.00,410.58 L668.25,409.03 L668.50,407.47 L668.75,405.90 L669.00,404.33 L669.25,402.75 L669.50,401.18 L669.75,399.60 L670.00,398.02 L670.25,396.44 L670.50,394.86 L670.75,393.28 L671.00,391.71 L671.25,390.14 L671.50,388.57 L671.75,387.02 L672.00,385.47 L672.25,383.92 L672.50,382.39 L672.75,380.87 L673.00,379.36 L673.25,377.86 L673.50,376.38 L673.75,374.90 L674.00,373.45 L674.25,372.01 L674.50,370.58 L674.75,369.18 L675.00,367.79 L675.25,366.42 L675.50,365.08 L675.75,363.75 L676.00,362.45 L676.25,361.17 L676.50,359.91 L676.75,358.68 L677.00,357.48 L677.25,356.31 L677.50,355.16 L677.75,354.04 L678.00,352.96 L678.25,351.90 L678.50,350.88 L678.75,349.90 L679.00,348.95 L679.25,348.04 L679.50,347.16 L679.75,346.33 L680.00,345.54 L680.25,344.79 L680.50,344.09 L680.75,343.43 L681.00,342.82 L681.25,342.25 L681.50,341.74 L681.75,341.28 L682.00,340.87 L682.25,340.52 L682.50,340.22 L682.75,339.98 L683.00,339.79 L683.25,339.67 L683.50,339.60 L683.75,339.60 L684.00,339.66 L684.25,339.78 L684.50,339.97 L684.75,340.21 L685.00,340.53 L685.25,340.91 L685.50,341.35 L685.75,341.86 L686.00,342.43 L686.25,343.07 L686.50,343.77 L686.75,344.53 L687.00,345.36 L687.25,346.25 L687.50,347.20 L687.75,348.21 L688.00,349.28 L688.25,350.41 L688.50,351.60 L688.75,352.83 L689.00,354.13 L689.25,355.47 L689.50,356.86 L689.75,358.29 L690.00,359.77 L690.25,361.30 L690.50,362.86 L690.75,364.46 L691.00,366.10 L691.25,367.76 L691.50,369.46 L691.75,371.19 L692.00,372.94 L692.25,374.72 L692.50,376.51 L692.75,378.33 L693.00,380.16 L693.25,382.00 L693.50,383.86 L693.75,385.72 L694.00,387.60 L694.25,389.48 L694.50,391.36 L694.75,393.24 L695.00,395.13 L695.25,397.02 L695.50,398.90 L695.75,400.79 L696.00,402.67 L696.25,404.54 L696.50,406.41 L696.75,408.27 L697.00,410.13 L697.25,411.98 L697.50,413.82 L697.75,415.66 L698.00,417.48 L698.25,419.31 L698.50,421.12 L698.75,422.93 L699.00,424.73 L699.25,426.53 L699.50,428.32 L699.75,430.10 L700.00,431.88 L700.25,433.66 L700.50,435.44 L700.75,437.21 L701.00,438.98 L701.25,440.75 L701.50,442.52 L701.75,444.29 L702.00,446.06 L702.25,447.83 L702.50,449.61 L702.75,451.38 L703.00,453.16 L703.25,454.94 L703.50,456.72 L703.75,458.50 L704.00,460.29 L704.25,462.07 L704.50,463.86 L704.75,465.66 L705.00,467.45 L705.25,469.24 L705.50,471.04 L705.75,472.83 L706.00,474.62 L706.25,476.40 L706.50,478.19 L706.75,479.97 L707.00,481.74 L707.25,483.50 L707.50,485.26 L707.75,487.00 L708.00,488.73 L708.25,490.45 L708.50,492.16 L708.75,493.84 L709.00,495.51 L709.25,497.16 L709.50,498.78 L709.75,500.39 L710.00,501.96 L710.25,503.51 L710.50,505.03 L710.75,506.52 L711.00,507.97 L711.25,509.40 L711.50,510.78 L711.75,512.13 L712.00,513.44 L712.25,514.71 L712.50,515.93 L712.75,517.12 L713.00,518.26 L713.25,519.35 L713.50,520.40 L713.75,521.40 L714.00,522.35 L714.25,523.25 L714.50,524.10 L714.75,524.90 L715.00,525.65 L715.25,526.35 L715.50,527.00 L715.75,527.60 L716.00,528.14 L716.25,528.63 L716.50,529.08 L716.75,529.47 L717.00,529.80 L717.25,530.09 L717.50,530.33 L717.75,530.52 L718.00,530.66 L718.25,530.76 L718.50,530.81 L718.75,530.81 L719.00,530.77 L719.25,530.69 L719.50,530.56 L719.75,530.40 L720.00,530.20 L720.25,529.96 L720.50,529.68 L720.75,529.38 L721.00,529.04 L721.25,528.67 L721.50,528.28 L721.75,527.86 L722.00,527.41 L722.25,526.95 L722.50,526.46 L722.75,525.96 L723.00,525.44 L723.25,524.91 L723.50,524.36 L723.75,523.81 L724.00,523.25 L724.25,522.69 L724.50,522.12 L724.75,521.55 L725.00,520.98 L725.25,520.41 L725.50,519.85 L725.75,519.29 L726.00,518.74 L726.25,518.20 L726.50,517.66 L726.75,517.14 L727.00,516.63 L727.25,516.13 L727.50,515.65 L727.75,515.18 L728.00,514.73 L728.25,514.29 L728.50,513.87 L728.75,513.47 L729.00,513.08 L729.25,512.71 L729.50,512.35 L729.75,512.02 L730.00,511.69 L730.25,511.39 L730.50,511.09 L730.75,510.81 L731.00,510.55 L731.25,510.29 L731.50,510.05 L731.75,509.81 L732.00,509.58 L732.25,509.36 L732.50,509.15 L732.75,508.93 L733.00,508.72 L733.25,508.51 L733.50,508.30 L733.75,508.08 L734.00,507.86 L734.25,507.63 L734.50,507.39 L734.75,507.15 L735.00,506.89 L735.25,506.61 L735.50,506.33 L735.75,506.02 L736.00,505.70 L736.25,505.35 L736.50,504.99 L736.75,504.60 L737.00,504.19 L737.25,503.75 L737.50,503.29 L737.75,502.81 L738.00,502.29 L738.25,501.75 L738.50,501.19 L738.75,500.59 L739.00,499.96 L739.25,499.31 L739.50,498.63 L739.75,497.92 L740.00,497.18 L740.25,496.41 L740.50,495.62 L740.75,494.80 L741.00,493.96 L741.25,493.09 L741.50,492.19 L741.75,491.27 L742.00,490.33 L742.25,489.37 L742.50,488.39 L742.75,487.38 L743.00,486.36 L743.25,485.32 L743.50,484.27 L743.75,483.20 L744.00,482.12 L744.25,481.02 L744.50,479.91 L744.75,478.79 L745.00,477.66 L745.25,476.52 L745.50,475.37 L745.75,474.21 L746.00,473.04 L746.25,471.87 L746.50,470.69 L746.75,469.51 L747.00,468.32 L747.25,467.12 L747.50,465.92 L747.75,464.72 L748.00,463.51 L748.25,462.29 L748.50,461.07 L748.75,459.84 L749.00,458.61 L749.25,457.37 L749.50,456.13 L749.75,454.87 L750.00,453.61 L750.25,452.35 L750.50,451.07 L750.75,449.79 L751.00,448.49 L751.25,447.19 L751.50,445.88 L751.75,444.55 L752.00,443.22 L752.25,441.87 L752.50,440.51 L752.75,439.14 L753.00,437.76 L753.25,436.36 L753.50,434.95 L753.75,433.53 L754.00,432.09 L754.25,430.65 L754.50,429.18 L754.75,427.71 L755.00,426.22 L755.25,424.72 L755.50,423.21 L755.75,421.69 L756.00,420.15 L756.25,418.60 L756.50,417.05 L756.75,415.48 L757.00,413.91 L757.25,412.33 L757.50,410.74 L757.75,409.14 L758.00,407.54 L758.25,405.93 L758.50,404.32 L758.75,402.71 L759.00,401.10 L759.25,399.48 L759.50,397.87 L759.75,396.26 L760.00,394.65 L760.25,393.04 L760.50,391.44 L760.75,389.84 L761.00,388.25 L761.25,386.66 L761.50,385.09 L761.75,383.52 L762.00,381.96 L762.25,380.41 L762.50,378.88 L762.75,377.36 L763.00,375.85 L763.25,374.35 L763.50,372.87 L763.75,371.41 L764.00,369.96 L764.25,368.53 L764.50,367.12 L764.75,365.73 L765.00,364.35 L765.25,363.00 L765.50,361.67 L765.75,360.36 L766.00,359.08 L766.25,357.82 L766.50,356.58 L766.75,355.37 L767.00,354.19 L767.25,353.04 L767.50,351.92 L767.75,350.83 L768.00,349.77 L768.25,348.75 L768.50,347.76 L768.75,346.80 L769.00,345.89 L769.25,345.01 L769.50,344.18 L769.75,343.39 L770.00,342.64 L770.25,341.93 L770.50,341.28 L770.75,340.67 L771.00,340.11 L771.25,339.61 L771.50,339.16 L771.75,338.76 L772.00,338.42 L772.25,338.13 L772.50,337.91 L772.75,337.74 L773.00,337.64 L773.25,337.60 L773.50,337.62 L773.75,337.71 L774.00,337.86 L774.25,338.08 L774.50,338.36 L774.75,338.71 L775.00,339.13 L775.25,339.62 L775.50,340.17 L775.75,340.78 L776.00,341.47 L776.25,342.22 L776.50,343.03 L776.75,343.91 L777.00,344.85 L777.25,345.85 L777.50,346.92 L777.75,348.04 L778.00,349.22 L778.25,350.45 L778.50,351.74 L778.75,353.08 L779.00,354.47 L779.25,355.91 L779.50,357.39 L779.75,358.92 L780.00,360.48 L780.25,362.09 L780.50,363.72 L780.75,365.40 L781.00,367.10 L781.25,368.83 L781.50,370.58 L781.75,372.35 L782.00,374.15 L782.25,375.96 L782.50,377.79 L782.75,379.63 L783.00,381.48 L783.25,383.34 L783.50,385.21 L783.75,387.08 L784.00,388.96 L784.25,390.83 L784.50,392.71 L784.75,394.58 L785.00,396.45 L785.25,398.32 L785.50,400.18 L785.75,402.03 L786.00,403.88 L786.25,405.72 L786.50,407.56 L786.75,409.38 L787.00,411.20 L787.25,413.01 L787.50,414.81 L787.75,416.61 L788.00,418.39 L788.25,420.17 L788.50,421.95 L788.75,423.71 L789.00,425.48 L789.25,427.23 L789.50,428.99 L789.75,430.74 L790.00,432.48 L790.25,434.23 L790.50,435.97 L790.75,437.72 L791.00,439.46 L791.25,441.20 L791.50,442.95 L791.75,444.69 L792.00,446.44 L792.25,448.19 L792.50,449.95 L792.75,451.70 L793.00,453.46 L793.25,455.23 L793.50,456.99 L793.75,458.76 L794.00,460.53 L794.25,462.31 L794.50,464.08 L794.75,465.86 L795.00,467.64 L795.25,469.41 L795.50,471.19 L795.75,472.96 L796.00,474.73 L796.25,476.49 L796.50,478.25 L796.75,480.00 L797.00,481.74 L797.25,483.47 L797.50,485.19 L797.75,486.90 L798.00,488.59 L798.25,490.26 L798.50,491.91 L798.75,493.55 L799.00,495.16 L799.25,496.75 L799.50,498.31 L799.75,499.84 L800.00,501.35 L800.25,502.82 L800.50,504.26 L800.75,505.67 L801.00,507.04 L801.25,508.38 L801.50,509.67 L801.75,510.93 L802.00,512.15 L802.25,513.32 L802.50,514.45 L802.75,515.53 L803.00,516.57 L803.25,517.56 L803.50,518.50 L803.75,519.40 L804.00,520.25 L804.25,521.04 L804.50,521.79 L804.75,522.49 L805.00,523.14 L805.25,523.74 L805.50,524.28 L805.75,524.78 L806.00,525.23 L806.25,525.63 L806.50,525.98 L806.75,526.28 L807.00,526.53 L807.25,526.74 L807.50,526.90 L807.75,527.01 L808.00,527.08 L808.25,527.10 L808.50,527.09 L808.75,527.03 L809.00,526.93 L809.25,526.80 L809.50,526.63 L809.75,526.42 L810.00,526.18 L810.25,525.91 L810.50,525.61 L810.75,525.28 L811.00,524.92 L811.25,524.54 L811.50,524.13 L811.75,523.71 L812.00,523.27 L812.25,522.80 L812.50,522.33 L812.75,521.84 L813.00,521.34 L813.25,520.83 L813.50,520.31 L813.75,519.79 L814.00,519.27 L814.25,518.74 L814.50,518.21"/>
<path d="M116.0,434.5H815.0" stroke="#000" stroke-opacity="0.92" stroke-width="1" fill="none" shape-rendering="crispEdges"/>
<text class="tt" x="464.9" y="323" text-anchor="middle">Tidal Height, meters</text>
</g>
</svg>
</body></html>
